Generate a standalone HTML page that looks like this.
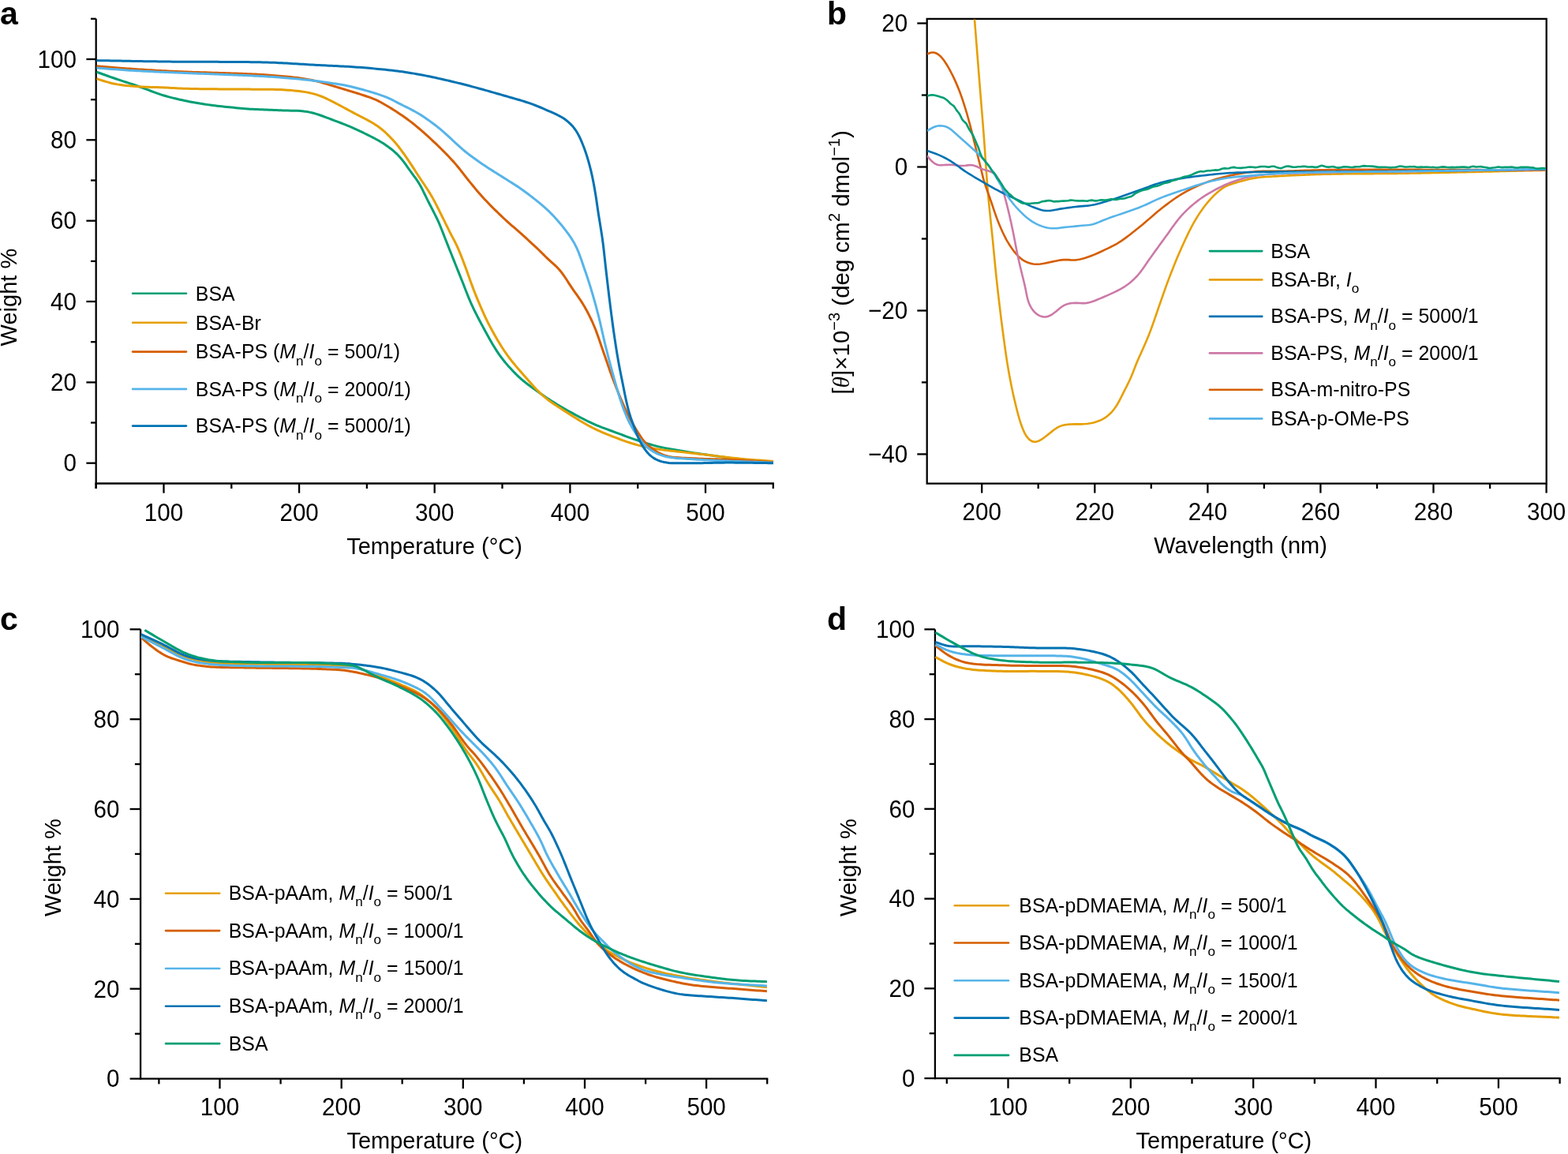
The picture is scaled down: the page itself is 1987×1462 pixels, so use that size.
<!DOCTYPE html>
<html><head><meta charset="utf-8"><style>html,body{margin:0;padding:0;background:#fff;}svg{display:block;}</style></head><body>
<svg xmlns="http://www.w3.org/2000/svg" width="1987" height="1462" viewBox="0 0 1987 1462">
<rect width="1987" height="1462" fill="#fff"/>
<g font-family="Liberation Sans, Arial, Helvetica, sans-serif" fill="#000">
<text x="0.0" y="31.0" font-size="41.0" text-anchor="start" font-weight="bold">a</text>
<text x="1048.0" y="31.0" font-size="41.0" text-anchor="start" font-weight="bold">b</text>
<text x="0.0" y="797.5" font-size="41.0" text-anchor="start" font-weight="bold">c</text>
<text x="1048.0" y="797.5" font-size="41.0" text-anchor="start" font-weight="bold">d</text>
<line x1="121.7" y1="23.8" x2="121.7" y2="619.0" stroke="#000" stroke-width="2.30" stroke-linecap="butt"/>
<line x1="120.6" y1="612.5" x2="980.9" y2="612.5" stroke="#000" stroke-width="2.30" stroke-linecap="butt"/>
<line x1="109.4" y1="586.7" x2="121.7" y2="586.7" stroke="#000" stroke-width="2.30" stroke-linecap="butt"/>
<text transform="translate(97.0,597.2) scale(1,1.060)" font-size="29.6" text-anchor="end">0</text>
<line x1="115.0" y1="535.5" x2="121.7" y2="535.5" stroke="#000" stroke-width="2.30" stroke-linecap="butt"/>
<line x1="109.4" y1="484.4" x2="121.7" y2="484.4" stroke="#000" stroke-width="2.30" stroke-linecap="butt"/>
<text transform="translate(97.0,494.9) scale(1,1.060)" font-size="29.6" text-anchor="end">20</text>
<line x1="115.0" y1="433.2" x2="121.7" y2="433.2" stroke="#000" stroke-width="2.30" stroke-linecap="butt"/>
<line x1="109.4" y1="382.0" x2="121.7" y2="382.0" stroke="#000" stroke-width="2.30" stroke-linecap="butt"/>
<text transform="translate(97.0,392.5) scale(1,1.060)" font-size="29.6" text-anchor="end">40</text>
<line x1="115.0" y1="330.9" x2="121.7" y2="330.9" stroke="#000" stroke-width="2.30" stroke-linecap="butt"/>
<line x1="109.4" y1="279.7" x2="121.7" y2="279.7" stroke="#000" stroke-width="2.30" stroke-linecap="butt"/>
<text transform="translate(97.0,290.2) scale(1,1.060)" font-size="29.6" text-anchor="end">60</text>
<line x1="115.0" y1="228.5" x2="121.7" y2="228.5" stroke="#000" stroke-width="2.30" stroke-linecap="butt"/>
<line x1="109.4" y1="177.3" x2="121.7" y2="177.3" stroke="#000" stroke-width="2.30" stroke-linecap="butt"/>
<text transform="translate(97.0,187.8) scale(1,1.060)" font-size="29.6" text-anchor="end">80</text>
<line x1="115.0" y1="126.2" x2="121.7" y2="126.2" stroke="#000" stroke-width="2.30" stroke-linecap="butt"/>
<line x1="109.4" y1="75.0" x2="121.7" y2="75.0" stroke="#000" stroke-width="2.30" stroke-linecap="butt"/>
<text transform="translate(97.0,85.5) scale(1,1.060)" font-size="29.6" text-anchor="end">100</text>
<line x1="115.0" y1="23.8" x2="121.7" y2="23.8" stroke="#000" stroke-width="2.30" stroke-linecap="butt"/>
<line x1="121.7" y1="612.5" x2="121.7" y2="619.0" stroke="#000" stroke-width="2.30" stroke-linecap="butt"/>
<line x1="207.5" y1="612.5" x2="207.5" y2="624.7" stroke="#000" stroke-width="2.30" stroke-linecap="butt"/>
<text transform="translate(207.5,659.8) scale(1,1.060)" font-size="29.6" text-anchor="middle">100</text>
<line x1="293.3" y1="612.5" x2="293.3" y2="619.0" stroke="#000" stroke-width="2.30" stroke-linecap="butt"/>
<line x1="379.1" y1="612.5" x2="379.1" y2="624.7" stroke="#000" stroke-width="2.30" stroke-linecap="butt"/>
<text transform="translate(379.1,659.8) scale(1,1.060)" font-size="29.6" text-anchor="middle">200</text>
<line x1="464.9" y1="612.5" x2="464.9" y2="619.0" stroke="#000" stroke-width="2.30" stroke-linecap="butt"/>
<line x1="550.7" y1="612.5" x2="550.7" y2="624.7" stroke="#000" stroke-width="2.30" stroke-linecap="butt"/>
<text transform="translate(550.7,659.8) scale(1,1.060)" font-size="29.6" text-anchor="middle">300</text>
<line x1="636.5" y1="612.5" x2="636.5" y2="619.0" stroke="#000" stroke-width="2.30" stroke-linecap="butt"/>
<line x1="722.4" y1="612.5" x2="722.4" y2="624.7" stroke="#000" stroke-width="2.30" stroke-linecap="butt"/>
<text transform="translate(722.4,659.8) scale(1,1.060)" font-size="29.6" text-anchor="middle">400</text>
<line x1="808.2" y1="612.5" x2="808.2" y2="619.0" stroke="#000" stroke-width="2.30" stroke-linecap="butt"/>
<line x1="894.0" y1="612.5" x2="894.0" y2="624.7" stroke="#000" stroke-width="2.30" stroke-linecap="butt"/>
<text transform="translate(894.0,659.8) scale(1,1.060)" font-size="29.6" text-anchor="middle">500</text>
<line x1="979.8" y1="612.5" x2="979.8" y2="619.0" stroke="#000" stroke-width="2.30" stroke-linecap="butt"/>
<text x="550.5" y="702.0" font-size="29.0" text-anchor="middle">Temperature (°C)</text>
<text transform="translate(21.2,376.6) rotate(-90)" font-size="29.0" text-anchor="middle">Weight %</text>
<line x1="168.1" y1="371.7" x2="236.0" y2="371.7" stroke="#009E73" stroke-width="2.60" stroke-linecap="round"/>
<text x="247.8" y="381.0" font-size="24.9" text-anchor="start">BSA</text>
<line x1="168.1" y1="408.8" x2="236.0" y2="408.8" stroke="#E69F00" stroke-width="2.60" stroke-linecap="round"/>
<text x="247.8" y="418.1" font-size="24.9" text-anchor="start">BSA-Br</text>
<line x1="168.1" y1="445.6" x2="236.0" y2="445.6" stroke="#D55E00" stroke-width="2.60" stroke-linecap="round"/>
<text x="247.8" y="454.3" font-size="24.9" text-anchor="start">BSA-PS (<tspan font-style="italic">M</tspan><tspan font-size="17.2" dy="8.2">n</tspan><tspan dy="-8.2">/</tspan><tspan font-style="italic">I</tspan><tspan font-size="17.2" dy="8.2">o</tspan><tspan dy="-8.2"> = 500/1)</tspan></text>
<line x1="168.1" y1="492.9" x2="236.0" y2="492.9" stroke="#56B4E9" stroke-width="2.60" stroke-linecap="round"/>
<text x="247.8" y="501.6" font-size="24.9" text-anchor="start">BSA-PS (<tspan font-style="italic">M</tspan><tspan font-size="17.2" dy="8.2">n</tspan><tspan dy="-8.2">/</tspan><tspan font-style="italic">I</tspan><tspan font-size="17.2" dy="8.2">o</tspan><tspan dy="-8.2"> = 2000/1)</tspan></text>
<line x1="168.1" y1="539.6" x2="236.0" y2="539.6" stroke="#0072B2" stroke-width="2.60" stroke-linecap="round"/>
<text x="247.8" y="548.3" font-size="24.9" text-anchor="start">BSA-PS (<tspan font-style="italic">M</tspan><tspan font-size="17.2" dy="8.2">n</tspan><tspan dy="-8.2">/</tspan><tspan font-style="italic">I</tspan><tspan font-size="17.2" dy="8.2">o</tspan><tspan dy="-8.2"> = 5000/1)</tspan></text>
<path d="M122.50,91.20L125.33,92.22L128.15,93.23L130.98,94.25L133.81,95.27L136.64,96.28L139.47,97.29L142.30,98.28L145.14,99.26L147.99,100.23L150.84,101.18L153.69,102.12L156.54,103.06L159.40,103.98L162.26,104.91L165.11,105.85L167.97,106.79L170.82,107.75L173.66,108.72L176.49,109.72L179.32,110.74L182.13,111.79L184.94,112.86L187.74,113.94L190.55,115.02L193.35,116.09L196.17,117.14L198.99,118.15L201.83,119.13L204.69,120.06L207.56,120.95L210.44,121.79L213.34,122.60L216.24,123.37L219.15,124.11L222.07,124.83L224.99,125.52L227.92,126.19L230.86,126.83L233.79,127.46L236.73,128.08L239.68,128.67L242.63,129.24L245.58,129.79L248.54,130.32L251.50,130.82L254.47,131.30L257.44,131.76L260.41,132.20L263.38,132.63L266.36,133.03L269.34,133.42L272.32,133.79L275.30,134.15L278.29,134.49L281.27,134.83L284.26,135.15L287.25,135.46L290.24,135.77L293.23,136.06L296.22,136.36L299.21,136.64L302.20,136.91L305.19,137.18L308.18,137.44L311.18,137.69L314.17,137.92L317.17,138.13L320.17,138.31L323.17,138.46L326.17,138.59L329.17,138.71L332.17,138.84L335.18,138.96L338.18,139.09L341.18,139.21L344.18,139.33L347.18,139.45L350.19,139.56L353.19,139.68L356.19,139.79L359.19,139.90L362.20,140.00L365.20,140.08L368.20,140.14L371.21,140.20L374.21,140.27L377.21,140.37L380.21,140.54L383.20,140.79L386.18,141.14L389.15,141.58L392.10,142.13L395.03,142.77L397.94,143.51L400.83,144.33L403.69,145.24L406.53,146.21L409.36,147.24L412.17,148.29L414.97,149.37L417.78,150.44L420.59,151.51L423.40,152.57L426.21,153.62L429.02,154.68L431.83,155.75L434.63,156.83L437.43,157.93L440.21,159.07L442.98,160.23L445.74,161.42L448.48,162.64L451.22,163.88L453.95,165.14L456.66,166.42L459.38,167.71L462.08,169.02L464.78,170.34L467.47,171.67L470.16,173.02L472.83,174.39L475.49,175.79L478.13,177.22L480.76,178.68L483.35,180.20L485.90,181.78L488.41,183.43L490.86,185.15L493.28,186.94L495.66,188.77L497.99,190.66L500.27,192.61L502.49,194.64L504.62,196.75L506.66,198.94L508.62,201.22L510.49,203.57L512.30,205.96L514.07,208.39L515.81,210.84L517.54,213.30L519.27,215.75L521.03,218.18L522.81,220.60L524.60,223.02L526.38,225.44L528.11,227.89L529.79,230.38L531.37,232.93L532.88,235.52L534.30,238.17L535.66,240.85L536.98,243.54L538.29,246.25L539.59,248.95L540.91,251.65L542.25,254.34L543.61,257.02L544.99,259.69L546.37,262.36L547.75,265.03L549.13,267.70L550.49,270.38L551.83,273.06L553.15,275.76L554.43,278.48L555.67,281.21L556.88,283.97L558.05,286.73L559.18,289.51L560.29,292.31L561.39,295.10L562.47,297.91L563.56,300.71L564.65,303.51L565.75,306.30L566.86,309.09L567.97,311.89L569.08,314.68L570.19,317.47L571.30,320.26L572.41,323.05L573.52,325.84L574.64,328.63L575.75,331.42L576.87,334.21L577.98,337.00L579.10,339.79L580.22,342.58L581.34,345.37L582.46,348.16L583.57,350.94L584.69,353.73L585.80,356.53L586.91,359.32L588.00,362.12L589.08,364.92L590.16,367.72L591.25,370.52L592.35,373.32L593.47,376.11L594.61,378.88L595.80,381.65L597.01,384.39L598.26,387.13L599.53,389.85L600.83,392.56L602.15,395.25L603.50,397.94L604.86,400.62L606.24,403.28L607.64,405.94L609.05,408.60L610.47,411.24L611.89,413.89L613.32,416.54L614.75,419.18L616.18,421.82L617.62,424.46L619.07,427.09L620.54,429.71L622.03,432.32L623.54,434.91L625.07,437.50L626.63,440.06L628.23,442.61L629.86,445.13L631.54,447.62L633.26,450.08L635.04,452.50L636.85,454.89L638.71,457.25L640.61,459.58L642.55,461.88L644.52,464.14L646.53,466.37L648.58,468.57L650.66,470.74L652.77,472.88L654.91,474.98L657.09,477.05L659.31,479.07L661.56,481.06L663.86,482.99L666.20,484.88L668.56,486.73L670.96,488.54L673.37,490.33L675.80,492.10L678.24,493.85L680.69,495.59L683.14,497.33L685.60,499.05L688.07,500.76L690.55,502.45L693.05,504.13L695.56,505.78L698.08,507.41L700.62,509.02L703.17,510.61L705.73,512.18L708.30,513.73L710.89,515.26L713.48,516.77L716.09,518.27L718.70,519.75L721.32,521.23L723.95,522.68L726.58,524.13L729.22,525.56L731.87,526.97L734.53,528.37L737.20,529.76L739.87,531.12L742.56,532.47L745.26,533.79L747.97,535.08L750.69,536.35L753.44,537.57L756.20,538.76L758.97,539.90L761.76,541.02L764.57,542.10L767.38,543.16L770.19,544.20L773.02,545.23L775.84,546.27L778.65,547.31L781.47,548.36L784.28,549.41L787.10,550.46L789.92,551.50L792.74,552.54L795.56,553.57L798.39,554.58L801.22,555.58L804.06,556.56L806.91,557.52L809.76,558.47L812.61,559.41L815.47,560.34L818.33,561.25L821.20,562.14L824.08,563.00L826.96,563.83L829.86,564.63L832.77,565.38L835.69,566.09L838.62,566.75L841.56,567.38L844.50,567.96L847.45,568.52L850.41,569.05L853.37,569.56L856.34,570.06L859.30,570.54L862.26,571.03L865.23,571.51L868.20,571.99L871.16,572.47L874.13,572.94L877.10,573.40L880.07,573.86L883.04,574.30L886.01,574.74L888.98,575.17L891.96,575.60L894.93,576.02L897.91,576.45L900.88,576.87L903.86,577.29L906.83,577.71L909.80,578.13L912.78,578.55L915.76,578.96L918.73,579.37L921.71,579.76L924.69,580.15L927.67,580.52L930.65,580.88L933.64,581.22L936.63,581.56L939.61,581.87L942.60,582.18L945.59,582.47L948.58,582.76L951.57,583.04L954.57,583.31L957.56,583.58L960.55,583.85L963.54,584.11L966.54,584.38L969.53,584.65L972.52,584.92L975.51,585.19L978.50,585.46L980.00,585.60" fill="none" stroke="#009E73" stroke-width="3.00" stroke-linejoin="round" stroke-linecap="butt"/>
<path d="M122.50,99.80L125.37,100.68L128.25,101.56L131.12,102.45L133.99,103.33L136.88,104.17L139.78,104.96L142.69,105.67L145.63,106.31L148.58,106.86L151.55,107.34L154.52,107.77L157.50,108.15L160.49,108.49L163.48,108.79L166.47,109.07L169.47,109.33L172.46,109.56L175.46,109.78L178.46,109.97L181.46,110.12L184.46,110.24L187.47,110.34L190.47,110.41L193.48,110.48L196.48,110.55L199.49,110.62L202.49,110.71L205.49,110.82L208.50,110.94L211.50,111.09L214.50,111.24L217.50,111.40L220.50,111.57L223.50,111.73L226.51,111.89L229.51,112.03L232.51,112.16L235.51,112.27L238.52,112.37L241.52,112.45L244.53,112.52L247.53,112.57L250.54,112.62L253.54,112.66L256.55,112.70L259.55,112.73L262.56,112.76L265.57,112.79L268.57,112.82L271.58,112.85L274.58,112.87L277.59,112.89L280.59,112.90L283.60,112.92L286.60,112.93L289.61,112.94L292.62,112.95L295.62,112.96L298.63,112.98L301.63,112.99L304.64,113.01L307.64,113.03L310.65,113.06L313.66,113.09L316.66,113.11L319.67,113.14L322.67,113.15L325.68,113.17L328.68,113.18L331.69,113.19L334.69,113.20L337.70,113.22L340.71,113.25L343.71,113.29L346.72,113.34L349.72,113.41L352.73,113.50L355.73,113.61L358.73,113.76L361.73,113.93L364.73,114.14L367.73,114.37L370.72,114.62L373.71,114.90L376.70,115.20L379.69,115.55L382.67,115.93L385.64,116.37L388.60,116.86L391.55,117.43L394.49,118.09L397.39,118.83L400.28,119.67L403.13,120.61L405.95,121.63L408.75,122.73L411.51,123.92L414.23,125.18L416.94,126.49L419.63,127.83L422.31,129.19L424.98,130.57L427.64,131.96L430.29,133.37L432.94,134.79L435.59,136.22L438.23,137.65L440.87,139.09L443.51,140.52L446.16,141.94L448.82,143.35L451.48,144.74L454.16,146.11L456.83,147.48L459.50,148.86L462.17,150.24L464.83,151.65L467.47,153.08L470.09,154.55L472.68,156.08L475.23,157.66L477.74,159.32L480.18,161.05L482.57,162.87L484.90,164.77L487.17,166.73L489.39,168.76L491.56,170.84L493.67,172.97L495.75,175.14L497.80,177.35L499.80,179.58L501.77,181.85L503.69,184.16L505.57,186.51L507.39,188.90L509.18,191.31L510.94,193.75L512.68,196.20L514.40,198.66L516.11,201.13L517.81,203.62L519.48,206.11L521.14,208.62L522.78,211.14L524.41,213.66L526.03,216.19L527.65,218.72L529.28,221.25L530.91,223.77L532.57,226.28L534.23,228.79L535.91,231.28L537.59,233.77L539.26,236.27L540.92,238.78L542.55,241.30L544.15,243.84L545.71,246.41L547.23,249.01L548.70,251.63L550.14,254.26L551.55,256.92L552.93,259.59L554.29,262.27L555.64,264.95L556.98,267.64L558.32,270.33L559.65,273.03L560.98,275.72L562.31,278.42L563.65,281.11L564.98,283.80L566.31,286.50L567.64,289.20L568.97,291.89L570.31,294.58L571.68,297.26L573.07,299.92L574.49,302.57L575.90,305.23L577.27,307.90L578.59,310.60L579.85,313.32L581.06,316.07L582.22,318.85L583.36,321.63L584.47,324.42L585.56,327.22L586.64,330.03L587.71,332.83L588.78,335.64L589.83,338.46L590.87,341.28L591.89,344.11L592.90,346.94L593.90,349.77L594.90,352.61L595.90,355.44L596.92,358.27L597.96,361.09L599.01,363.90L600.08,366.71L601.17,369.51L602.27,372.31L603.39,375.10L604.53,377.88L605.68,380.66L606.85,383.43L608.03,386.19L609.21,388.95L610.41,391.71L611.62,394.46L612.85,397.21L614.10,399.94L615.38,402.66L616.69,405.36L618.03,408.05L619.40,410.72L620.80,413.39L622.21,416.04L623.64,418.68L625.09,421.32L626.55,423.94L628.03,426.56L629.53,429.16L631.05,431.76L632.59,434.33L634.16,436.90L635.76,439.44L637.39,441.97L639.05,444.48L640.75,446.96L642.48,449.41L644.26,451.83L646.07,454.23L647.91,456.60L649.79,458.95L651.69,461.28L653.61,463.59L655.56,465.88L657.52,468.16L659.49,470.43L661.47,472.69L663.45,474.95L665.43,477.21L667.42,479.47L669.40,481.73L671.38,483.99L673.36,486.24L675.37,488.48L677.39,490.70L679.44,492.90L681.53,495.06L683.66,497.18L685.84,499.25L688.06,501.27L690.34,503.22L692.67,505.12L695.05,506.95L697.47,508.73L699.93,510.47L702.41,512.17L704.91,513.83L707.42,515.48L709.94,517.11L712.47,518.74L715.00,520.37L717.52,521.99L720.05,523.62L722.58,525.25L725.11,526.87L727.65,528.47L730.20,530.07L732.76,531.65L735.32,533.21L737.90,534.76L740.49,536.27L743.10,537.77L745.73,539.22L748.38,540.65L751.05,542.03L753.74,543.37L756.45,544.66L759.18,545.92L761.93,547.13L764.69,548.32L767.47,549.47L770.25,550.60L773.05,551.70L775.85,552.80L778.65,553.88L781.46,554.95L784.27,556.01L787.09,557.05L789.91,558.08L792.75,559.08L795.59,560.05L798.45,560.99L801.31,561.90L804.19,562.75L807.09,563.57L809.99,564.33L812.91,565.04L815.84,565.71L818.78,566.34L821.73,566.93L824.68,567.49L827.64,568.02L830.60,568.52L833.57,569.00L836.54,569.45L839.51,569.87L842.49,570.26L845.48,570.62L848.46,570.96L851.45,571.29L854.44,571.60L857.43,571.91L860.42,572.23L863.41,572.54L866.40,572.87L869.38,573.21L872.37,573.55L875.36,573.90L878.34,574.24L881.33,574.59L884.31,574.93L887.30,575.28L890.28,575.62L893.27,575.97L896.26,576.32L899.24,576.67L902.23,577.02L905.21,577.38L908.19,577.75L911.18,578.12L914.16,578.49L917.14,578.86L920.12,579.22L923.11,579.58L926.10,579.92L929.08,580.25L932.07,580.56L935.06,580.86L938.06,581.14L941.05,581.42L944.04,581.68L947.04,581.93L950.03,582.17L953.03,582.41L956.03,582.65L959.02,582.88L962.02,583.11L965.02,583.33L968.01,583.56L971.01,583.79L974.01,584.03L977.00,584.26L980.00,584.50" fill="none" stroke="#E69F00" stroke-width="3.00" stroke-linejoin="round" stroke-linecap="butt"/>
<path d="M122.50,83.70L125.49,83.97L128.49,84.25L131.48,84.52L134.47,84.80L137.47,85.06L140.46,85.31L143.46,85.56L146.45,85.79L149.45,86.02L152.45,86.24L155.45,86.46L158.44,86.67L161.44,86.88L164.44,87.09L167.44,87.30L170.44,87.50L173.44,87.71L176.43,87.90L179.43,88.10L182.43,88.29L185.43,88.48L188.43,88.67L191.43,88.85L194.43,89.03L197.43,89.21L200.43,89.38L203.43,89.55L206.44,89.71L209.44,89.87L212.44,90.03L215.44,90.18L218.44,90.33L221.45,90.46L224.45,90.59L227.45,90.72L230.45,90.84L233.46,90.96L236.46,91.07L239.46,91.18L242.47,91.28L245.47,91.38L248.48,91.48L251.48,91.58L254.48,91.68L257.49,91.77L260.49,91.86L263.50,91.96L266.50,92.05L269.51,92.14L272.51,92.23L275.51,92.32L278.52,92.41L281.52,92.50L284.53,92.59L287.53,92.69L290.53,92.78L293.54,92.88L296.54,92.98L299.55,93.09L302.55,93.19L305.55,93.31L308.56,93.42L311.56,93.55L314.56,93.68L317.56,93.82L320.57,93.97L323.57,94.11L326.57,94.26L329.57,94.42L332.57,94.59L335.57,94.78L338.57,94.98L341.57,95.21L344.56,95.45L347.56,95.69L350.55,95.95L353.55,96.21L356.54,96.46L359.54,96.73L362.53,97.00L365.52,97.29L368.51,97.59L371.50,97.90L374.49,98.24L377.47,98.61L380.45,99.00L383.43,99.42L386.39,99.89L389.36,100.39L392.31,100.95L395.25,101.55L398.19,102.20L401.11,102.89L404.02,103.63L406.93,104.40L409.83,105.21L412.71,106.03L415.60,106.88L418.48,107.75L421.35,108.62L424.23,109.49L427.11,110.36L429.98,111.23L432.86,112.10L435.74,112.96L438.62,113.83L441.49,114.70L444.37,115.58L447.24,116.46L450.11,117.35L452.98,118.24L455.85,119.15L458.71,120.07L461.56,121.01L464.41,121.96L467.25,122.94L470.08,123.96L472.89,125.03L475.66,126.19L478.39,127.44L481.07,128.79L483.70,130.23L486.32,131.71L488.92,133.21L491.51,134.74L494.08,136.29L496.64,137.87L499.18,139.48L501.70,141.11L504.22,142.76L506.72,144.43L509.20,146.11L511.67,147.82L514.13,149.56L516.56,151.32L518.98,153.11L521.37,154.93L523.73,156.79L526.07,158.67L528.39,160.59L530.69,162.52L532.97,164.48L535.23,166.45L537.49,168.44L539.73,170.44L541.97,172.45L544.19,174.47L546.41,176.50L548.61,178.55L550.80,180.61L552.98,182.68L555.14,184.76L557.30,186.86L559.44,188.97L561.57,191.09L563.69,193.22L565.79,195.37L567.88,197.52L569.95,199.70L572.00,201.90L574.03,204.12L576.02,206.37L577.98,208.64L579.91,210.95L581.80,213.29L583.66,215.64L585.51,218.02L587.35,220.39L589.19,222.77L591.04,225.13L592.91,227.49L594.80,229.83L596.69,232.16L598.59,234.49L600.50,236.81L602.43,239.12L604.36,241.42L606.32,243.70L608.30,245.96L610.30,248.21L612.32,250.43L614.35,252.64L616.41,254.84L618.48,257.02L620.56,259.18L622.66,261.33L624.78,263.46L626.91,265.58L629.06,267.68L631.22,269.77L633.39,271.85L635.57,273.92L637.76,275.98L639.97,278.02L642.19,280.05L644.42,282.05L646.67,284.04L648.94,286.02L651.21,287.98L653.49,289.95L655.75,291.93L658.00,293.92L660.24,295.92L662.48,297.93L664.70,299.95L666.93,301.97L669.15,303.99L671.37,306.02L673.58,308.06L675.79,310.09L677.99,312.14L680.19,314.19L682.37,316.26L684.53,318.35L686.67,320.46L688.80,322.58L690.92,324.71L693.07,326.81L695.25,328.87L697.47,330.90L699.72,332.90L701.95,334.90L704.16,336.94L706.30,339.05L708.35,341.23L710.31,343.51L712.16,345.87L713.93,348.29L715.64,350.77L717.30,353.27L718.93,355.80L720.55,358.32L722.19,360.85L723.84,363.36L725.52,365.85L727.23,368.32L728.96,370.78L730.69,373.23L732.42,375.69L734.13,378.16L735.81,380.65L737.45,383.17L739.04,385.72L740.59,388.30L742.08,390.91L743.53,393.54L744.94,396.19L746.31,398.86L747.65,401.56L748.95,404.27L750.21,406.99L751.43,409.74L752.62,412.50L753.77,415.28L754.88,418.07L755.94,420.88L756.98,423.70L757.99,426.53L758.98,429.37L759.96,432.21L760.93,435.05L761.90,437.90L762.88,440.74L763.86,443.58L764.85,446.42L765.84,449.26L766.82,452.10L767.81,454.94L768.78,457.78L769.76,460.62L770.74,463.46L771.72,466.30L772.72,469.14L773.73,471.97L774.75,474.80L775.79,477.62L776.84,480.43L777.91,483.24L778.99,486.05L780.08,488.85L781.19,491.64L782.31,494.43L783.44,497.22L784.58,500.00L785.73,502.77L786.90,505.54L788.07,508.31L789.25,511.07L790.44,513.83L791.65,516.58L792.89,519.32L794.15,522.05L795.44,524.76L796.77,527.46L798.14,530.13L799.55,532.79L801.00,535.42L802.48,538.03L804.00,540.63L805.55,543.20L807.13,545.76L808.71,548.31L810.31,550.86L811.96,553.37L813.68,555.83L815.52,558.19L817.50,560.44L819.60,562.57L821.81,564.60L824.11,566.53L826.47,568.38L828.91,570.13L831.42,571.77L834.01,573.29L836.67,574.66L839.41,575.88L842.22,576.91L845.09,577.76L848.01,578.43L850.96,578.95L853.94,579.33L856.93,579.62L859.92,579.84L862.93,580.00L865.93,580.13L868.93,580.25L871.93,580.38L874.94,580.52L877.94,580.68L880.94,580.85L883.94,581.01L886.94,581.16L889.94,581.28L892.95,581.39L895.95,581.48L898.96,581.57L901.96,581.65L904.96,581.73L907.97,581.81L910.97,581.89L913.98,581.99L916.98,582.09L919.98,582.21L922.99,582.34L925.99,582.48L928.99,582.64L931.99,582.79L934.99,582.95L937.99,583.12L941.00,583.29L944.00,583.46L947.00,583.64L950.00,583.81L953.00,583.99L956.00,584.17L959.00,584.35L962.00,584.53L965.00,584.71L968.00,584.89L971.00,585.07L974.00,585.25L977.00,585.43L980.00,585.60" fill="none" stroke="#D55E00" stroke-width="3.00" stroke-linejoin="round" stroke-linecap="butt"/>
<path d="M122.50,86.00L125.50,86.23L128.49,86.46L131.49,86.69L134.49,86.93L137.48,87.17L140.48,87.40L143.47,87.64L146.47,87.87L149.47,88.09L152.47,88.32L155.46,88.53L158.46,88.74L161.46,88.95L164.46,89.14L167.46,89.33L170.46,89.50L173.46,89.68L176.46,89.84L179.46,90.00L182.46,90.16L185.46,90.31L188.47,90.46L191.47,90.60L194.47,90.74L197.47,90.88L200.48,91.02L203.48,91.15L206.48,91.29L209.48,91.42L212.49,91.56L215.49,91.69L218.49,91.82L221.49,91.95L224.50,92.08L227.50,92.20L230.50,92.32L233.50,92.44L236.51,92.56L239.51,92.68L242.51,92.79L245.52,92.91L248.52,93.02L251.52,93.14L254.53,93.25L257.53,93.37L260.53,93.48L263.54,93.60L266.54,93.72L269.54,93.84L272.55,93.96L275.55,94.08L278.55,94.19L281.56,94.31L284.56,94.42L287.56,94.54L290.57,94.66L293.57,94.78L296.57,94.90L299.58,95.02L302.58,95.14L305.58,95.27L308.58,95.40L311.59,95.54L314.59,95.68L317.59,95.83L320.59,95.98L323.59,96.13L326.59,96.28L329.60,96.44L332.60,96.61L335.60,96.78L338.60,96.97L341.60,97.17L344.59,97.37L347.59,97.59L350.59,97.81L353.59,98.04L356.58,98.27L359.58,98.51L362.57,98.75L365.57,99.00L368.56,99.26L371.56,99.52L374.55,99.79L377.54,100.07L380.54,100.35L383.53,100.64L386.52,100.95L389.51,101.26L392.49,101.59L395.48,101.93L398.46,102.29L401.45,102.66L404.43,103.05L407.40,103.45L410.38,103.87L413.36,104.30L416.33,104.74L419.30,105.19L422.27,105.65L425.24,106.10L428.21,106.57L431.18,107.04L434.14,107.55L437.10,108.09L440.04,108.68L442.98,109.31L445.91,109.98L448.83,110.69L451.74,111.43L454.65,112.19L457.55,112.98L460.45,113.78L463.34,114.59L466.23,115.42L469.11,116.27L471.99,117.14L474.86,118.02L477.73,118.93L480.58,119.86L483.43,120.82L486.26,121.82L489.07,122.89L491.85,124.04L494.58,125.28L497.27,126.62L499.93,128.01L502.58,129.42L505.25,130.80L507.93,132.15L510.63,133.49L513.32,134.82L516.01,136.16L518.69,137.51L521.36,138.89L524.02,140.30L526.65,141.75L529.26,143.24L531.83,144.79L534.38,146.39L536.90,148.02L539.39,149.70L541.86,151.41L544.31,153.15L546.74,154.92L549.15,156.71L551.54,158.54L553.91,160.38L556.26,162.26L558.59,164.16L560.88,166.10L563.14,168.08L565.38,170.08L567.60,172.11L569.80,174.15L572.00,176.20L574.20,178.25L576.41,180.29L578.62,182.33L580.83,184.36L583.05,186.39L585.30,188.38L587.59,190.33L589.91,192.23L592.26,194.10L594.64,195.94L597.04,197.75L599.45,199.54L601.88,201.32L604.32,203.07L606.77,204.80L609.24,206.52L611.73,208.20L614.23,209.87L616.75,211.51L619.28,213.14L621.81,214.75L624.35,216.36L626.89,217.96L629.43,219.57L631.97,221.17L634.51,222.78L637.05,224.39L639.60,225.99L642.15,227.58L644.70,229.17L647.24,230.76L649.79,232.37L652.32,233.99L654.84,235.63L657.34,237.29L659.82,238.99L662.28,240.72L664.72,242.47L667.14,244.25L669.54,246.05L671.93,247.87L674.31,249.71L676.68,251.57L679.03,253.44L681.38,255.31L683.72,257.20L686.04,259.10L688.34,261.03L690.61,263.01L692.83,265.03L695.01,267.10L697.15,269.21L699.24,271.36L701.31,273.55L703.34,275.76L705.35,277.99L707.34,280.25L709.29,282.53L711.22,284.83L713.12,287.16L714.99,289.51L716.83,291.89L718.64,294.29L720.41,296.71L722.15,299.17L723.83,301.66L725.45,304.19L726.99,306.77L728.45,309.39L729.82,312.06L731.11,314.77L732.31,317.53L733.44,320.31L734.51,323.12L735.54,325.94L736.54,328.77L737.52,331.61L738.49,334.46L739.47,337.30L740.45,340.14L741.44,342.98L742.42,345.82L743.39,348.66L744.35,351.51L745.29,354.37L746.21,357.23L747.12,360.09L748.01,362.96L748.89,365.84L749.75,368.72L750.60,371.60L751.45,374.48L752.28,377.37L753.10,380.26L753.91,383.16L754.71,386.05L755.50,388.95L756.28,391.86L757.04,394.76L757.80,397.67L758.54,400.58L759.26,403.50L759.96,406.42L760.65,409.35L761.33,412.28L761.99,415.21L762.66,418.14L763.32,421.07L763.98,424.00L764.65,426.93L765.33,429.86L766.01,432.79L766.71,435.71L767.42,438.63L768.15,441.55L768.88,444.46L769.62,447.37L770.37,450.28L771.13,453.19L771.89,456.10L772.66,459.01L773.43,461.91L774.20,464.82L774.99,467.72L775.77,470.62L776.57,473.52L777.37,476.41L778.17,479.31L778.98,482.20L779.78,485.10L780.59,487.99L781.41,490.89L782.23,493.78L783.08,496.66L783.94,499.54L784.83,502.41L785.75,505.27L786.70,508.12L787.67,510.97L788.67,513.80L789.69,516.63L790.73,519.45L791.81,522.25L792.93,525.04L794.10,527.81L795.32,530.55L796.60,533.27L797.94,535.96L799.34,538.62L800.79,541.25L802.31,543.84L803.89,546.39L805.54,548.91L807.23,551.39L808.98,553.83L810.76,556.25L812.60,558.62L814.51,560.94L816.52,563.17L818.63,565.29L820.87,567.28L823.23,569.12L825.70,570.81L828.27,572.36L830.91,573.77L833.63,575.03L836.41,576.15L839.25,577.14L842.12,577.98L845.04,578.69L847.98,579.27L850.95,579.72L853.93,580.09L856.92,580.39L859.91,580.63L862.91,580.84L865.91,581.03L868.91,581.20L871.91,581.38L874.91,581.57L877.91,581.77L880.91,581.97L883.91,582.17L886.91,582.37L889.91,582.54L892.91,582.71L895.91,582.86L898.91,583.01L901.91,583.14L904.92,583.27L907.92,583.40L910.92,583.53L913.93,583.65L916.93,583.77L919.93,583.90L922.93,584.03L925.94,584.15L928.94,584.27L931.94,584.39L934.95,584.51L937.95,584.62L940.95,584.73L943.96,584.84L946.96,584.95L949.96,585.05L952.97,585.16L955.97,585.26L958.97,585.37L961.98,585.47L964.98,585.57L967.99,585.68L970.99,585.78L973.99,585.89L977.00,585.99L980.00,586.10" fill="none" stroke="#56B4E9" stroke-width="3.00" stroke-linejoin="round" stroke-linecap="butt"/>
<path d="M122.50,76.60L125.51,76.65L128.51,76.70L131.52,76.75L134.52,76.80L137.53,76.85L140.53,76.91L143.54,76.96L146.54,77.01L149.54,77.07L152.55,77.12L155.55,77.17L158.56,77.23L161.56,77.28L164.57,77.34L167.57,77.39L170.58,77.44L173.58,77.49L176.59,77.54L179.59,77.59L182.60,77.64L185.60,77.69L188.61,77.74L191.61,77.79L194.62,77.83L197.63,77.87L200.63,77.92L203.64,77.96L206.64,77.99L209.65,78.03L212.65,78.06L215.66,78.10L218.66,78.13L221.67,78.15L224.67,78.18L227.68,78.20L230.68,78.22L233.69,78.24L236.69,78.25L239.70,78.27L242.70,78.28L245.71,78.29L248.72,78.30L251.72,78.31L254.73,78.32L257.73,78.33L260.74,78.34L263.74,78.35L266.75,78.35L269.75,78.36L272.76,78.37L275.76,78.37L278.77,78.38L281.78,78.39L284.78,78.40L287.79,78.41L290.79,78.42L293.80,78.43L296.80,78.45L299.81,78.47L302.81,78.48L305.82,78.51L308.82,78.53L311.83,78.57L314.83,78.60L317.84,78.64L320.84,78.68L323.85,78.72L326.85,78.77L329.86,78.82L332.86,78.89L335.87,78.96L338.87,79.04L341.88,79.14L344.88,79.25L347.88,79.37L350.89,79.50L353.89,79.64L356.89,79.79L359.89,79.94L362.89,80.11L365.89,80.28L368.89,80.45L371.89,80.63L374.89,80.81L377.89,80.99L380.89,81.17L383.89,81.35L386.89,81.53L389.89,81.71L392.89,81.89L395.89,82.06L398.89,82.23L401.90,82.40L404.90,82.56L407.90,82.71L410.90,82.86L413.90,83.01L416.90,83.15L419.91,83.29L422.91,83.44L425.91,83.58L428.91,83.73L431.91,83.88L434.92,84.03L437.92,84.19L440.92,84.36L443.92,84.54L446.92,84.72L449.92,84.92L452.91,85.13L455.91,85.35L458.91,85.59L461.90,85.83L464.90,86.09L467.89,86.35L470.89,86.61L473.88,86.88L476.87,87.15L479.86,87.44L482.85,87.73L485.84,88.03L488.83,88.34L491.82,88.66L494.81,88.99L497.80,89.34L500.78,89.69L503.76,90.07L506.74,90.45L509.72,90.86L512.70,91.28L515.67,91.72L518.64,92.17L521.61,92.65L524.57,93.14L527.53,93.66L530.49,94.19L533.45,94.73L536.40,95.30L539.35,95.87L542.29,96.47L545.24,97.07L548.18,97.69L551.12,98.32L554.05,98.96L556.99,99.61L559.92,100.28L562.85,100.95L565.78,101.62L568.70,102.31L571.63,103.00L574.55,103.70L577.47,104.40L580.39,105.11L583.31,105.83L586.23,106.56L589.14,107.30L592.05,108.05L594.96,108.81L597.86,109.58L600.77,110.36L603.67,111.14L606.57,111.94L609.46,112.74L612.36,113.54L615.25,114.36L618.14,115.17L621.04,115.99L623.93,116.82L626.81,117.64L629.70,118.47L632.59,119.30L635.48,120.13L638.37,120.97L641.26,121.80L644.14,122.63L647.03,123.45L649.92,124.28L652.81,125.11L655.70,125.94L658.58,126.79L661.46,127.66L664.33,128.55L667.19,129.47L670.04,130.43L672.88,131.42L675.70,132.45L678.51,133.52L681.30,134.62L684.08,135.76L686.86,136.92L689.61,138.11L692.37,139.32L695.12,140.53L697.87,141.74L700.62,142.96L703.36,144.19L706.07,145.47L708.76,146.82L711.39,148.26L713.94,149.83L716.41,151.53L718.78,153.36L721.05,155.32L723.22,157.39L725.27,159.58L727.19,161.88L728.99,164.27L730.65,166.77L732.19,169.34L733.60,171.99L734.92,174.69L736.15,177.43L737.33,180.19L738.46,182.97L739.56,185.77L740.62,188.58L741.64,191.41L742.62,194.25L743.55,197.11L744.44,199.98L745.29,202.86L746.10,205.75L746.89,208.65L747.65,211.56L748.39,214.47L749.10,217.39L749.78,220.32L750.43,223.25L751.04,226.20L751.63,229.14L752.20,232.09L752.75,235.05L753.28,238.01L753.80,240.97L754.31,243.93L754.80,246.89L755.26,249.86L755.71,252.83L756.14,255.81L756.57,258.78L757.00,261.76L757.43,264.73L757.87,267.71L758.32,270.68L758.78,273.65L759.26,276.61L759.74,279.58L760.23,282.55L760.72,285.51L761.20,288.48L761.68,291.45L762.14,294.41L762.60,297.38L763.04,300.36L763.46,303.33L763.86,306.31L764.25,309.29L764.61,312.28L764.96,315.26L765.30,318.25L765.64,321.23L765.96,324.22L766.28,327.21L766.61,330.20L766.94,333.18L767.27,336.17L767.61,339.16L767.95,342.14L768.30,345.13L768.64,348.11L768.99,351.10L769.33,354.09L769.68,357.07L770.03,360.06L770.38,363.04L770.73,366.03L771.09,369.01L771.44,371.99L771.80,374.98L772.17,377.96L772.53,380.94L772.91,383.93L773.28,386.91L773.66,389.89L774.04,392.87L774.42,395.85L774.81,398.83L775.20,401.81L775.59,404.79L775.98,407.77L776.39,410.75L776.79,413.73L777.20,416.71L777.62,419.68L778.05,422.66L778.48,425.63L778.92,428.60L779.37,431.58L779.82,434.55L780.28,437.52L780.74,440.49L781.21,443.46L781.69,446.42L782.18,449.39L782.68,452.35L783.19,455.31L783.71,458.27L784.24,461.23L784.79,464.19L785.35,467.14L785.92,470.09L786.51,473.04L787.10,475.98L787.70,478.93L788.30,481.87L788.89,484.82L789.48,487.77L790.07,490.71L790.65,493.66L791.23,496.61L791.82,499.56L792.43,502.50L793.06,505.44L793.71,508.37L794.38,511.30L795.07,514.23L795.79,517.15L796.55,520.05L797.36,522.95L798.22,525.82L799.15,528.68L800.14,531.52L801.17,534.34L802.21,537.16L803.25,539.98L804.29,542.80L805.34,545.62L806.40,548.43L807.51,551.22L808.66,553.99L809.89,556.73L811.21,559.43L812.63,562.07L814.15,564.66L815.78,567.19L817.49,569.65L819.32,572.03L821.27,574.30L823.36,576.43L825.62,578.39L828.03,580.14L830.60,581.66L833.29,582.95L836.08,584.01L838.95,584.87L841.86,585.55L844.82,586.06L847.79,586.42L850.78,586.65L853.78,586.79L856.79,586.86L859.79,586.87L862.80,586.86L865.80,586.82L868.81,586.78L871.81,586.74L874.82,586.72L877.82,586.71L880.83,586.70L883.83,586.69L886.84,586.67L889.85,586.63L892.85,586.59L895.86,586.53L898.86,586.47L901.86,586.41L904.87,586.34L907.87,586.28L910.88,586.23L913.88,586.18L916.89,586.15L919.89,586.12L922.90,586.11L925.91,586.11L928.91,586.11L931.92,586.13L934.92,586.15L937.93,586.17L940.93,586.20L943.94,586.23L946.94,586.27L949.95,586.31L952.95,586.35L955.96,586.39L958.96,586.43L961.97,586.47L964.97,586.51L967.98,586.55L970.98,586.59L973.99,586.63L976.99,586.67L980.00,586.70" fill="none" stroke="#0072B2" stroke-width="3.00" stroke-linejoin="round" stroke-linecap="butt"/>
<rect x="1174.7" y="23.9" width="785.0" height="588.7" fill="none" stroke="#000" stroke-width="2.30"/>
<line x1="1162.3" y1="29.5" x2="1174.7" y2="29.5" stroke="#000" stroke-width="2.30" stroke-linecap="butt"/>
<text transform="translate(1150.2,39.8) scale(1,1.060)" font-size="29.6" text-anchor="end">20</text>
<line x1="1167.9" y1="120.5" x2="1174.7" y2="120.5" stroke="#000" stroke-width="2.30" stroke-linecap="butt"/>
<line x1="1162.3" y1="211.5" x2="1174.7" y2="211.5" stroke="#000" stroke-width="2.30" stroke-linecap="butt"/>
<text transform="translate(1150.2,221.8) scale(1,1.060)" font-size="29.6" text-anchor="end">0</text>
<line x1="1167.9" y1="302.5" x2="1174.7" y2="302.5" stroke="#000" stroke-width="2.30" stroke-linecap="butt"/>
<line x1="1162.3" y1="393.5" x2="1174.7" y2="393.5" stroke="#000" stroke-width="2.30" stroke-linecap="butt"/>
<text transform="translate(1150.2,403.8) scale(1,1.060)" font-size="29.6" text-anchor="end">−20</text>
<line x1="1167.9" y1="484.4" x2="1174.7" y2="484.4" stroke="#000" stroke-width="2.30" stroke-linecap="butt"/>
<line x1="1162.3" y1="575.4" x2="1174.7" y2="575.4" stroke="#000" stroke-width="2.30" stroke-linecap="butt"/>
<text transform="translate(1150.2,585.7) scale(1,1.060)" font-size="29.6" text-anchor="end">−40</text>
<line x1="1244.2" y1="612.6" x2="1244.2" y2="624.6" stroke="#000" stroke-width="2.30" stroke-linecap="butt"/>
<text transform="translate(1244.2,658.9) scale(1,1.060)" font-size="29.6" text-anchor="middle">200</text>
<line x1="1315.7" y1="612.6" x2="1315.7" y2="619.1" stroke="#000" stroke-width="2.30" stroke-linecap="butt"/>
<line x1="1387.3" y1="612.6" x2="1387.3" y2="624.6" stroke="#000" stroke-width="2.30" stroke-linecap="butt"/>
<text transform="translate(1387.3,658.9) scale(1,1.060)" font-size="29.6" text-anchor="middle">220</text>
<line x1="1458.8" y1="612.6" x2="1458.8" y2="619.1" stroke="#000" stroke-width="2.30" stroke-linecap="butt"/>
<line x1="1530.4" y1="612.6" x2="1530.4" y2="624.6" stroke="#000" stroke-width="2.30" stroke-linecap="butt"/>
<text transform="translate(1530.4,658.9) scale(1,1.060)" font-size="29.6" text-anchor="middle">240</text>
<line x1="1601.9" y1="612.6" x2="1601.9" y2="619.1" stroke="#000" stroke-width="2.30" stroke-linecap="butt"/>
<line x1="1673.4" y1="612.6" x2="1673.4" y2="624.6" stroke="#000" stroke-width="2.30" stroke-linecap="butt"/>
<text transform="translate(1673.4,658.9) scale(1,1.060)" font-size="29.6" text-anchor="middle">260</text>
<line x1="1745.0" y1="612.6" x2="1745.0" y2="619.1" stroke="#000" stroke-width="2.30" stroke-linecap="butt"/>
<line x1="1816.5" y1="612.6" x2="1816.5" y2="624.6" stroke="#000" stroke-width="2.30" stroke-linecap="butt"/>
<text transform="translate(1816.5,658.9) scale(1,1.060)" font-size="29.6" text-anchor="middle">280</text>
<line x1="1888.1" y1="612.6" x2="1888.1" y2="619.1" stroke="#000" stroke-width="2.30" stroke-linecap="butt"/>
<line x1="1959.6" y1="612.6" x2="1959.6" y2="624.6" stroke="#000" stroke-width="2.30" stroke-linecap="butt"/>
<text transform="translate(1959.6,658.9) scale(1,1.060)" font-size="29.6" text-anchor="middle">300</text>
<text x="1572.0" y="700.8" font-size="29.0" text-anchor="middle">Wavelength (nm)</text>
<text transform="translate(1076.3,332.4) rotate(-90)" font-size="29.5" text-anchor="middle">[<tspan font-family="Liberation Serif, serif" font-style="italic">θ</tspan>]×10<tspan font-size="20" dy="-12.5">−3</tspan><tspan dy="12.5"> (deg cm</tspan><tspan font-size="20" dy="-12.5">2</tspan><tspan dy="12.5"> dmol</tspan><tspan font-size="20" dy="-12.5">−1</tspan><tspan dy="12.5">)</tspan></text>
<line x1="1532.9" y1="318.1" x2="1599.3" y2="318.1" stroke="#009E73" stroke-width="2.60" stroke-linecap="round"/>
<text x="1610.3" y="326.6" font-size="24.9" text-anchor="start">BSA</text>
<line x1="1532.9" y1="354.4" x2="1599.3" y2="354.4" stroke="#E69F00" stroke-width="2.60" stroke-linecap="round"/>
<text x="1610.3" y="362.9" font-size="24.9" text-anchor="start">BSA-Br, <tspan font-style="italic">I</tspan><tspan font-size="17.2" dy="8.2">o</tspan></text>
<line x1="1532.9" y1="400.9" x2="1599.3" y2="400.9" stroke="#0072B2" stroke-width="2.60" stroke-linecap="round"/>
<text x="1610.3" y="409.4" font-size="24.9" text-anchor="start">BSA-PS, <tspan font-style="italic">M</tspan><tspan font-size="17.2" dy="8.2">n</tspan><tspan dy="-8.2">/</tspan><tspan font-style="italic">I</tspan><tspan font-size="17.2" dy="8.2">o</tspan><tspan dy="-8.2"> = 5000/1</tspan></text>
<line x1="1532.9" y1="447.4" x2="1599.3" y2="447.4" stroke="#CC79A7" stroke-width="2.60" stroke-linecap="round"/>
<text x="1610.3" y="455.9" font-size="24.9" text-anchor="start">BSA-PS, <tspan font-style="italic">M</tspan><tspan font-size="17.2" dy="8.2">n</tspan><tspan dy="-8.2">/</tspan><tspan font-style="italic">I</tspan><tspan font-size="17.2" dy="8.2">o</tspan><tspan dy="-8.2"> = 2000/1</tspan></text>
<line x1="1532.9" y1="493.7" x2="1599.3" y2="493.7" stroke="#D55E00" stroke-width="2.60" stroke-linecap="round"/>
<text x="1610.3" y="502.2" font-size="24.9" text-anchor="start">BSA-m-nitro-PS</text>
<line x1="1532.9" y1="530.4" x2="1599.3" y2="530.4" stroke="#56B4E9" stroke-width="2.60" stroke-linecap="round"/>
<text x="1610.3" y="538.9" font-size="24.9" text-anchor="start">BSA-p-OMe-PS</text>
<clipPath id="cb"><rect x="1174.7" y="23.9" width="785.0" height="588.7"/></clipPath>
<g clip-path="url(#cb)">
<path d="M1235.00,24.50L1235.24,27.50L1235.47,30.49L1235.71,33.49L1235.94,36.48L1236.18,39.48L1236.41,42.47L1236.64,45.47L1236.88,48.46L1237.11,51.46L1237.35,54.45L1237.58,57.45L1237.82,60.45L1238.05,63.44L1238.29,66.44L1238.52,69.43L1238.76,72.43L1238.99,75.42L1239.23,78.42L1239.46,81.41L1239.70,84.41L1239.94,87.40L1240.17,90.40L1240.41,93.40L1240.65,96.39L1240.88,99.39L1241.12,102.38L1241.36,105.38L1241.60,108.37L1241.84,111.37L1242.09,114.36L1242.33,117.36L1242.57,120.35L1242.82,123.35L1243.06,126.34L1243.31,129.34L1243.55,132.33L1243.80,135.32L1244.04,138.32L1244.28,141.31L1244.53,144.31L1244.77,147.30L1245.01,150.30L1245.25,153.29L1245.49,156.29L1245.73,159.28L1245.96,162.28L1246.19,165.28L1246.43,168.27L1246.66,171.27L1246.88,174.26L1247.10,177.26L1247.32,180.26L1247.53,183.25L1247.75,186.25L1247.96,189.25L1248.16,192.25L1248.37,195.24L1248.58,198.24L1248.78,201.24L1248.99,204.24L1249.19,207.23L1249.40,210.23L1249.61,213.23L1249.82,216.23L1250.03,219.22L1250.25,222.22L1250.46,225.22L1250.69,228.21L1250.91,231.21L1251.14,234.21L1251.38,237.20L1251.63,240.20L1251.88,243.19L1252.14,246.18L1252.40,249.18L1252.68,252.17L1252.96,255.16L1253.25,258.15L1253.54,261.14L1253.84,264.13L1254.15,267.12L1254.45,270.11L1254.76,273.10L1255.08,276.08L1255.39,279.07L1255.71,282.06L1256.02,285.05L1256.33,288.04L1256.64,291.03L1256.95,294.02L1257.26,297.00L1257.56,299.99L1257.85,302.98L1258.15,305.97L1258.44,308.96L1258.73,311.96L1259.02,314.95L1259.31,317.94L1259.59,320.93L1259.88,323.92L1260.17,326.91L1260.46,329.90L1260.75,332.89L1261.04,335.88L1261.34,338.87L1261.64,341.86L1261.94,344.85L1262.24,347.84L1262.55,350.83L1262.86,353.82L1263.18,356.80L1263.51,359.79L1263.84,362.78L1264.17,365.76L1264.51,368.75L1264.85,371.74L1265.19,374.72L1265.54,377.70L1265.89,380.69L1266.25,383.67L1266.60,386.66L1266.96,389.64L1267.32,392.62L1267.68,395.61L1268.04,398.59L1268.40,401.57L1268.77,404.55L1269.15,407.53L1269.53,410.51L1269.92,413.49L1270.31,416.47L1270.71,419.45L1271.11,422.43L1271.51,425.41L1271.90,428.39L1272.31,431.36L1272.71,434.34L1273.12,437.32L1273.53,440.29L1273.94,443.27L1274.37,446.24L1274.80,449.22L1275.24,452.19L1275.69,455.16L1276.15,458.13L1276.63,461.10L1277.12,464.06L1277.62,467.02L1278.14,469.98L1278.66,472.94L1279.20,475.90L1279.74,478.85L1280.30,481.80L1280.87,484.75L1281.45,487.70L1282.05,490.65L1282.66,493.59L1283.29,496.53L1283.93,499.46L1284.59,502.39L1285.26,505.32L1285.95,508.25L1286.65,511.17L1287.36,514.09L1288.09,517.00L1288.82,519.92L1289.57,522.83L1290.35,525.73L1291.15,528.62L1291.99,531.51L1292.87,534.38L1293.81,537.23L1294.82,540.06L1295.89,542.87L1297.05,545.64L1298.31,548.35L1299.75,550.97L1301.40,553.45L1303.29,555.73L1305.44,557.68L1307.87,559.12L1310.51,559.80L1313.26,559.62L1315.97,558.72L1318.60,557.38L1321.14,555.81L1323.59,554.08L1325.97,552.26L1328.32,550.38L1330.66,548.50L1333.01,546.63L1335.38,544.79L1337.81,543.04L1340.34,541.46L1343.00,540.13L1345.78,539.11L1348.67,538.40L1351.62,537.93L1354.60,537.63L1357.60,537.45L1360.60,537.37L1363.60,537.37L1366.61,537.37L1369.61,537.33L1372.61,537.22L1375.60,537.02L1378.59,536.72L1381.56,536.29L1384.49,535.71L1387.40,534.97L1390.26,534.08L1393.07,533.03L1395.80,531.82L1398.45,530.42L1400.98,528.83L1403.38,527.06L1405.65,525.11L1407.78,523.01L1409.79,520.78L1411.67,518.45L1413.44,516.03L1415.10,513.53L1416.64,510.96L1418.09,508.33L1419.48,505.67L1420.83,502.98L1422.17,500.30L1423.52,497.61L1424.89,494.94L1426.26,492.26L1427.63,489.59L1428.97,486.90L1430.29,484.20L1431.57,481.48L1432.80,478.74L1433.97,475.98L1435.11,473.20L1436.22,470.41L1437.31,467.61L1438.40,464.81L1439.51,462.01L1440.64,459.23L1441.81,456.47L1443.01,453.71L1444.24,450.97L1445.48,448.23L1446.72,445.50L1447.96,442.76L1449.18,440.01L1450.39,437.26L1451.60,434.51L1452.79,431.75L1453.96,428.98L1455.10,426.21L1456.21,423.42L1457.30,420.61L1458.35,417.80L1459.39,414.98L1460.40,412.15L1461.40,409.32L1462.39,406.48L1463.37,403.64L1464.35,400.80L1465.33,397.96L1466.30,395.12L1467.28,392.28L1468.26,389.44L1469.25,386.60L1470.24,383.76L1471.24,380.93L1472.23,378.09L1473.22,375.26L1474.22,372.42L1475.21,369.58L1476.21,366.75L1477.21,363.92L1478.23,361.09L1479.26,358.27L1480.31,355.45L1481.37,352.64L1482.44,349.84L1483.53,347.03L1484.62,344.23L1485.72,341.44L1486.83,338.65L1487.94,335.86L1489.07,333.07L1490.21,330.29L1491.36,327.52L1492.53,324.75L1493.71,321.98L1494.91,319.23L1496.12,316.48L1497.35,313.74L1498.59,311.00L1499.84,308.27L1501.09,305.54L1502.36,302.81L1503.63,300.09L1504.93,297.38L1506.24,294.68L1507.57,291.98L1508.93,289.31L1510.32,286.64L1511.75,284.00L1513.22,281.38L1514.73,278.78L1516.28,276.21L1517.87,273.66L1519.50,271.14L1521.17,268.64L1522.88,266.17L1524.63,263.73L1526.43,261.32L1528.28,258.96L1530.17,256.63L1532.13,254.35L1534.13,252.11L1536.18,249.92L1538.28,247.77L1540.43,245.68L1542.65,243.65L1544.93,241.71L1547.30,239.87L1549.77,238.17L1552.33,236.64L1555.00,235.30L1557.77,234.15L1560.60,233.16L1563.46,232.26L1566.34,231.41L1569.23,230.57L1572.11,229.74L1575.01,228.93L1577.91,228.15L1580.82,227.42L1583.75,226.76L1586.69,226.16L1589.65,225.63L1592.62,225.19L1595.60,224.81L1598.59,224.51L1601.58,224.26L1604.58,224.05L1607.58,223.87L1610.58,223.70L1613.58,223.54L1616.58,223.38L1619.58,223.22L1622.58,223.05L1625.58,222.89L1628.58,222.72L1631.58,222.57L1634.58,222.41L1637.58,222.27L1640.58,222.12L1643.58,221.99L1646.59,221.86L1649.59,221.73L1652.59,221.61L1655.59,221.49L1658.59,221.38L1661.60,221.27L1664.60,221.16L1667.60,221.06L1670.61,220.97L1673.61,220.88L1676.61,220.80L1679.62,220.72L1682.62,220.64L1685.62,220.58L1688.63,220.52L1691.63,220.46L1694.64,220.42L1697.64,220.37L1700.65,220.34L1703.65,220.31L1706.65,220.28L1709.66,220.25L1712.66,220.23L1715.67,220.21L1718.67,220.19L1721.68,220.17L1724.68,220.16L1727.69,220.14L1730.69,220.13L1733.70,220.12L1736.70,220.10L1739.71,220.09L1742.71,220.07L1745.71,220.05L1748.72,220.03L1751.72,220.01L1754.73,219.99L1757.73,219.97L1760.74,219.94L1763.74,219.91L1766.75,219.88L1769.75,219.84L1772.76,219.80L1775.76,219.76L1778.76,219.72L1781.77,219.67L1784.77,219.62L1787.78,219.57L1790.78,219.51L1793.79,219.46L1796.79,219.40L1799.79,219.35L1802.80,219.29L1805.80,219.23L1808.81,219.17L1811.81,219.11L1814.81,219.05L1817.82,218.98L1820.82,218.92L1823.83,218.86L1826.83,218.79L1829.83,218.72L1832.84,218.66L1835.84,218.59L1838.85,218.52L1841.85,218.46L1844.85,218.39L1847.86,218.32L1850.86,218.25L1853.87,218.18L1856.87,218.11L1859.87,218.04L1862.88,217.97L1865.88,217.90L1868.88,217.83L1871.89,217.76L1874.89,217.69L1877.90,217.61L1880.90,217.54L1883.90,217.47L1886.91,217.40L1889.91,217.33L1892.92,217.25L1895.92,217.18L1898.92,217.11L1901.93,217.04L1904.93,216.97L1907.93,216.89L1910.94,216.82L1913.94,216.75L1916.95,216.68L1919.95,216.61L1922.95,216.54L1925.96,216.46L1928.96,216.39L1931.97,216.32L1934.97,216.25L1937.97,216.18L1940.98,216.11L1943.98,216.04L1946.98,215.97L1949.99,215.90L1952.99,215.84L1956.00,215.77L1959.00,215.70" fill="none" stroke="#E69F00" stroke-width="2.60" stroke-linejoin="round" stroke-linecap="butt"/>
<path d="M1175.10,68.50L1177.78,67.31L1180.51,66.53L1183.27,66.48L1185.96,67.24L1188.50,68.62L1190.83,70.42L1192.95,72.51L1194.87,74.80L1196.65,77.21L1198.32,79.70L1199.93,82.24L1201.47,84.82L1202.95,87.44L1204.37,90.09L1205.75,92.76L1207.10,95.44L1208.42,98.15L1209.70,100.86L1210.95,103.60L1212.17,106.35L1213.34,109.12L1214.48,111.90L1215.58,114.70L1216.64,117.51L1217.67,120.33L1218.67,123.17L1219.64,126.01L1220.58,128.87L1221.51,131.73L1222.42,134.60L1223.31,137.47L1224.18,140.34L1225.04,143.23L1225.88,146.11L1226.70,149.01L1227.50,151.90L1228.29,154.80L1229.07,157.71L1229.84,160.61L1230.59,163.53L1231.33,166.44L1232.06,169.36L1232.77,172.28L1233.49,175.20L1234.20,178.12L1234.91,181.04L1235.63,183.96L1236.35,186.88L1237.08,189.80L1237.81,192.71L1238.55,195.63L1239.29,198.54L1240.02,201.46L1240.76,204.37L1241.49,207.29L1242.21,210.21L1242.91,213.13L1243.61,216.06L1244.29,218.98L1245.00,221.91L1245.73,224.82L1246.51,227.73L1247.35,230.61L1248.25,233.48L1249.20,236.33L1250.19,239.17L1251.21,242.00L1252.24,244.82L1253.27,247.65L1254.28,250.48L1255.27,253.32L1256.24,256.16L1257.19,259.01L1258.14,261.87L1259.09,264.72L1260.04,267.57L1261.01,270.42L1262.01,273.26L1263.03,276.08L1264.10,278.89L1265.20,281.69L1266.35,284.47L1267.52,287.24L1268.72,289.99L1269.94,292.74L1271.20,295.47L1272.50,298.18L1273.86,300.86L1275.27,303.52L1276.75,306.13L1278.30,308.70L1279.92,311.23L1281.61,313.72L1283.35,316.17L1285.15,318.57L1287.03,320.92L1289.00,323.17L1291.09,325.32L1293.32,327.31L1295.70,329.11L1298.24,330.67L1300.92,331.99L1303.70,333.06L1306.57,333.88L1309.50,334.44L1312.47,334.74L1315.45,334.75L1318.43,334.50L1321.39,334.04L1324.34,333.48L1327.28,332.87L1330.23,332.26L1333.17,331.64L1336.11,331.02L1339.05,330.40L1342.00,329.83L1344.96,329.38L1347.94,329.12L1350.94,329.06L1353.93,329.17L1356.93,329.34L1359.92,329.44L1362.91,329.36L1365.88,329.03L1368.82,328.48L1371.73,327.76L1374.61,326.91L1377.47,325.98L1380.31,324.99L1383.13,323.95L1385.93,322.86L1388.71,321.72L1391.47,320.52L1394.20,319.27L1396.92,317.99L1399.63,316.69L1402.35,315.40L1405.06,314.10L1407.76,312.79L1410.45,311.44L1413.10,310.02L1415.70,308.53L1418.26,306.96L1420.78,305.32L1423.26,303.62L1425.70,301.87L1428.12,300.08L1430.52,298.27L1432.90,296.44L1435.27,294.59L1437.64,292.72L1439.99,290.85L1442.34,288.98L1444.68,287.09L1447.01,285.19L1449.32,283.26L1451.61,281.32L1453.88,279.35L1456.15,277.38L1458.42,275.40L1460.68,273.43L1462.96,271.46L1465.25,269.51L1467.56,267.59L1469.89,265.69L1472.25,263.82L1474.62,261.98L1477.01,260.15L1479.41,258.34L1481.82,256.54L1484.24,254.77L1486.69,253.02L1489.15,251.30L1491.65,249.61L1494.16,247.97L1496.71,246.38L1499.29,244.83L1501.89,243.33L1504.53,241.88L1507.19,240.48L1509.87,239.13L1512.58,237.82L1515.30,236.55L1518.05,235.33L1520.81,234.15L1523.59,233.00L1526.39,231.90L1529.20,230.85L1532.03,229.83L1534.88,228.87L1537.74,227.95L1540.62,227.08L1543.51,226.25L1546.41,225.46L1549.32,224.71L1552.24,223.99L1555.17,223.30L1558.10,222.64L1561.04,222.00L1563.98,221.39L1566.93,220.80L1569.89,220.25L1572.85,219.73L1575.81,219.24L1578.78,218.79L1581.76,218.38L1584.74,218.00L1587.73,217.67L1590.73,217.39L1593.72,217.16L1596.72,216.99L1599.73,216.87L1602.73,216.79L1605.74,216.75L1608.74,216.74L1611.75,216.74L1614.76,216.75L1617.76,216.76L1620.77,216.77L1623.78,216.76L1626.78,216.74L1629.79,216.69L1632.80,216.62L1635.80,216.54L1638.81,216.44L1641.81,216.35L1644.82,216.24L1647.82,216.14L1650.83,216.03L1653.83,215.92L1656.84,215.82L1659.84,215.72L1662.85,215.62L1665.85,215.53L1668.86,215.45L1671.86,215.37L1674.87,215.30L1677.88,215.24L1680.88,215.19L1683.89,215.15L1686.89,215.10L1689.90,215.07L1692.91,215.04L1695.91,215.01L1698.92,214.98L1701.93,214.96L1704.93,214.94L1707.94,214.93L1710.95,214.92L1713.95,214.90L1716.96,214.90L1719.97,214.89L1722.97,214.88L1725.98,214.88L1728.99,214.87L1731.99,214.87L1735.00,214.87L1738.01,214.87L1741.01,214.87L1744.02,214.87L1747.03,214.88L1750.03,214.88L1753.04,214.88L1756.05,214.88L1759.05,214.89L1762.06,214.89L1765.07,214.89L1768.07,214.89L1771.08,214.90L1774.09,214.90L1777.09,214.90L1780.10,214.90L1783.11,214.90L1786.11,214.90L1789.12,214.91L1792.13,214.91L1795.14,214.91L1798.14,214.92L1801.15,214.92L1804.16,214.93L1807.16,214.93L1810.17,214.94L1813.18,214.95L1816.18,214.96L1819.19,214.96L1822.20,214.97L1825.20,214.98L1828.21,214.99L1831.22,215.00L1834.22,215.01L1837.23,215.02L1840.24,215.03L1843.24,215.04L1846.25,215.05L1849.26,215.06L1852.26,215.07L1855.27,215.09L1858.28,215.10L1861.28,215.11L1864.29,215.12L1867.30,215.13L1870.30,215.14L1873.31,215.16L1876.32,215.17L1879.32,215.18L1882.33,215.19L1885.34,215.21L1888.34,215.22L1891.35,215.23L1894.36,215.24L1897.36,215.26L1900.37,215.27L1903.38,215.28L1906.38,215.30L1909.39,215.31L1912.40,215.32L1915.40,215.33L1918.41,215.35L1921.42,215.36L1924.42,215.37L1927.43,215.38L1930.44,215.39L1933.44,215.41L1936.45,215.42L1939.46,215.43L1942.46,215.44L1945.47,215.45L1948.48,215.46L1951.48,215.47L1954.49,215.48L1957.50,215.49L1959.00,215.50" fill="none" stroke="#D55E00" stroke-width="2.60" stroke-linejoin="round" stroke-linecap="butt"/>
<path d="M1174.80,197.20L1176.65,199.57L1178.57,201.87L1180.62,204.04L1182.84,206.00L1185.27,207.63L1187.91,208.72L1190.74,209.20L1193.67,209.21L1196.65,209.00L1199.64,208.83L1202.64,208.75L1205.64,208.81L1208.63,209.01L1211.61,209.35L1214.59,209.74L1217.56,210.04L1220.52,210.07L1223.47,209.78L1226.41,209.35L1229.33,209.08L1232.23,209.26L1235.06,209.96L1237.81,211.05L1240.52,212.32L1243.25,213.56L1246.04,214.63L1248.89,215.51L1251.78,216.31L1254.61,217.22L1257.29,218.42L1259.72,220.04L1261.85,222.06L1263.70,224.38L1265.31,226.89L1266.73,229.52L1267.99,232.24L1269.09,235.03L1270.07,237.87L1270.94,240.75L1271.76,243.64L1272.55,246.54L1273.32,249.44L1274.10,252.35L1274.87,255.26L1275.63,258.17L1276.37,261.08L1277.09,264.00L1277.79,266.92L1278.49,269.85L1279.17,272.78L1279.84,275.71L1280.50,278.64L1281.16,281.58L1281.81,284.51L1282.44,287.45L1283.06,290.40L1283.67,293.34L1284.26,296.29L1284.84,299.24L1285.41,302.19L1285.98,305.15L1286.55,308.10L1287.11,311.05L1287.69,314.00L1288.27,316.95L1288.86,319.90L1289.47,322.85L1290.10,325.79L1290.74,328.72L1291.40,331.66L1292.08,334.59L1292.77,337.52L1293.47,340.44L1294.17,343.36L1294.89,346.28L1295.60,349.21L1296.32,352.13L1297.04,355.05L1297.75,357.97L1298.44,360.90L1299.09,363.83L1299.70,366.77L1300.28,369.72L1300.87,372.67L1301.49,375.61L1302.18,378.53L1303.01,381.42L1304.01,384.24L1305.22,386.97L1306.65,389.60L1308.28,392.10L1310.13,394.43L1312.21,396.55L1314.53,398.38L1317.08,399.85L1319.81,400.90L1322.66,401.44L1325.54,401.38L1328.34,400.71L1331.03,399.53L1333.59,398.02L1336.04,396.30L1338.40,394.45L1340.69,392.51L1342.99,390.58L1345.36,388.76L1347.87,387.17L1350.54,385.89L1353.35,384.94L1356.26,384.30L1359.23,383.93L1362.22,383.79L1365.21,383.84L1368.21,383.99L1371.21,384.13L1374.19,384.14L1377.16,383.89L1380.08,383.32L1382.95,382.49L1385.78,381.50L1388.58,380.42L1391.37,379.30L1394.15,378.15L1396.92,376.97L1399.68,375.78L1402.43,374.57L1405.18,373.34L1407.92,372.11L1410.66,370.86L1413.38,369.59L1416.08,368.27L1418.75,366.88L1421.37,365.43L1423.95,363.88L1426.46,362.23L1428.91,360.49L1431.29,358.67L1433.60,356.75L1435.85,354.75L1438.01,352.67L1440.10,350.52L1442.12,348.29L1444.05,345.98L1445.90,343.62L1447.69,341.21L1449.43,338.76L1451.15,336.29L1452.84,333.80L1454.54,331.32L1456.25,328.85L1457.97,326.38L1459.72,323.93L1461.47,321.49L1463.23,319.06L1465.00,316.62L1466.76,314.18L1468.52,311.75L1470.29,309.31L1472.06,306.88L1473.83,304.45L1475.61,302.03L1477.38,299.60L1479.14,297.16L1480.89,294.71L1482.62,292.26L1484.36,289.80L1486.10,287.35L1487.86,284.91L1489.65,282.49L1491.47,280.10L1493.34,277.75L1495.26,275.44L1497.24,273.18L1499.28,270.97L1501.37,268.81L1503.50,266.69L1505.67,264.61L1507.89,262.57L1510.14,260.58L1512.42,258.63L1514.75,256.72L1517.11,254.86L1519.50,253.05L1521.94,251.29L1524.42,249.59L1526.94,247.95L1529.49,246.36L1532.07,244.82L1534.68,243.32L1537.31,241.86L1539.95,240.43L1542.61,239.02L1545.28,237.64L1547.97,236.30L1550.69,235.01L1553.43,233.78L1556.20,232.62L1559.00,231.52L1561.81,230.47L1564.65,229.46L1567.49,228.48L1570.35,227.55L1573.22,226.67L1576.11,225.85L1579.02,225.09L1581.95,224.40L1584.89,223.78L1587.84,223.22L1590.81,222.73L1593.78,222.30L1596.76,221.92L1599.75,221.59L1602.75,221.30L1605.74,221.05L1608.74,220.82L1611.74,220.62L1614.74,220.44L1617.74,220.27L1620.75,220.13L1623.75,219.99L1626.76,219.87L1629.76,219.76L1632.77,219.66L1635.77,219.57L1638.78,219.48L1641.78,219.40L1644.79,219.33L1647.80,219.26L1650.80,219.19L1653.81,219.12L1656.82,219.06L1659.82,218.99L1662.83,218.93L1665.84,218.86L1668.84,218.79L1671.85,218.72L1674.85,218.64L1677.86,218.56L1680.87,218.48L1683.87,218.39L1686.88,218.31L1689.88,218.24L1692.89,218.17L1695.90,218.10L1698.90,218.04L1701.91,217.99L1704.92,217.94L1707.92,217.89L1710.93,217.85L1713.94,217.81L1716.94,217.78L1719.95,217.75L1722.96,217.72L1725.97,217.69L1728.97,217.66L1731.98,217.64L1734.99,217.61L1737.99,217.59L1741.00,217.57L1744.01,217.54L1747.01,217.52L1750.02,217.50L1753.03,217.47L1756.04,217.45L1759.04,217.42L1762.05,217.40L1765.06,217.37L1768.06,217.34L1771.07,217.31L1774.08,217.27L1777.08,217.24L1780.09,217.20L1783.10,217.16L1786.11,217.12L1789.11,217.08L1792.12,217.04L1795.13,217.00L1798.13,216.96L1801.14,216.92L1804.15,216.88L1807.15,216.84L1810.16,216.80L1813.17,216.76L1816.17,216.72L1819.18,216.68L1822.19,216.64L1825.19,216.60L1828.20,216.56L1831.21,216.52L1834.22,216.48L1837.22,216.44L1840.23,216.40L1843.24,216.36L1846.24,216.32L1849.25,216.28L1852.26,216.24L1855.26,216.20L1858.27,216.15L1861.28,216.11L1864.28,216.07L1867.29,216.03L1870.30,215.99L1873.30,215.95L1876.31,215.91L1879.32,215.87L1882.32,215.83L1885.33,215.79L1888.34,215.75L1891.35,215.71L1894.35,215.67L1897.36,215.63L1900.37,215.59L1903.37,215.55L1906.38,215.51L1909.39,215.47L1912.39,215.43L1915.40,215.39L1918.41,215.35L1921.41,215.30L1924.42,215.26L1927.43,215.22L1930.43,215.18L1933.44,215.14L1936.45,215.10L1939.46,215.06L1942.46,215.02L1945.47,214.98L1948.48,214.94L1951.48,214.90L1954.49,214.86L1957.50,214.82L1959.00,214.80" fill="none" stroke="#CC79A7" stroke-width="2.60" stroke-linejoin="round" stroke-linecap="butt"/>
<path d="M1175.10,191.00L1177.94,191.98L1180.78,192.97L1183.62,193.97L1186.44,195.03L1189.22,196.15L1191.97,197.36L1194.69,198.65L1197.37,200.02L1200.01,201.44L1202.63,202.93L1205.20,204.48L1207.74,206.10L1210.23,207.78L1212.68,209.52L1215.11,211.30L1217.53,213.08L1219.96,214.84L1222.43,216.57L1224.93,218.23L1227.46,219.85L1230.02,221.44L1232.60,222.99L1235.19,224.52L1237.79,226.03L1240.39,227.55L1242.98,229.06L1245.58,230.58L1248.18,232.09L1250.78,233.60L1253.39,235.10L1256.00,236.60L1258.62,238.08L1261.25,239.54L1263.89,240.98L1266.54,242.39L1269.22,243.77L1271.91,245.10L1274.63,246.40L1277.35,247.67L1280.09,248.92L1282.83,250.15L1285.57,251.40L1288.30,252.66L1291.02,253.94L1293.73,255.25L1296.43,256.57L1299.14,257.88L1301.86,259.18L1304.59,260.42L1307.35,261.61L1310.14,262.74L1312.95,263.81L1315.78,264.81L1318.65,265.70L1321.55,266.41L1324.50,266.87L1327.47,267.04L1330.45,266.90L1333.42,266.53L1336.38,266.01L1339.33,265.44L1342.29,264.89L1345.25,264.40L1348.23,263.94L1351.20,263.52L1354.18,263.10L1357.16,262.70L1360.15,262.32L1363.13,261.96L1366.13,261.64L1369.12,261.37L1372.12,261.12L1375.11,260.87L1378.11,260.59L1381.09,260.24L1384.06,259.79L1387.01,259.22L1389.94,258.54L1392.85,257.78L1395.74,256.96L1398.63,256.11L1401.51,255.24L1404.38,254.37L1407.26,253.48L1410.13,252.57L1412.99,251.65L1415.84,250.70L1418.70,249.75L1421.54,248.78L1424.39,247.79L1427.23,246.80L1430.06,245.80L1432.90,244.79L1435.73,243.78L1438.56,242.77L1441.40,241.77L1444.23,240.76L1447.06,239.74L1449.89,238.70L1452.71,237.66L1455.53,236.61L1458.35,235.57L1461.18,234.55L1464.02,233.56L1466.88,232.62L1469.75,231.74L1472.64,230.92L1475.55,230.16L1478.48,229.47L1481.42,228.82L1484.36,228.23L1487.32,227.66L1490.28,227.13L1493.24,226.62L1496.21,226.13L1499.18,225.65L1502.15,225.19L1505.13,224.75L1508.11,224.34L1511.09,223.95L1514.08,223.58L1517.06,223.22L1520.05,222.87L1523.04,222.53L1526.03,222.19L1529.02,221.85L1532.01,221.52L1535.00,221.19L1537.99,220.86L1540.98,220.56L1543.97,220.26L1546.97,219.99L1549.96,219.74L1552.96,219.51L1555.96,219.30L1558.97,219.11L1561.97,218.94L1564.97,218.79L1567.98,218.66L1570.99,218.54L1573.99,218.43L1577.00,218.34L1580.00,218.25L1583.01,218.17L1586.02,218.10L1589.03,218.03L1592.03,217.96L1595.04,217.91L1598.05,217.86L1601.06,217.82L1604.06,217.78L1607.07,217.76L1610.08,217.73L1613.09,217.71L1616.10,217.69L1619.10,217.67L1622.11,217.66L1625.12,217.65L1628.13,217.64L1631.14,217.63L1634.14,217.62L1637.15,217.62L1640.16,217.61L1643.17,217.61L1646.18,217.60L1649.18,217.60L1652.19,217.59L1655.20,217.59L1658.21,217.58L1661.22,217.58L1664.23,217.57L1667.23,217.56L1670.24,217.55L1673.25,217.53L1676.26,217.52L1679.27,217.50L1682.27,217.49L1685.28,217.47L1688.29,217.45L1691.30,217.43L1694.31,217.41L1697.31,217.40L1700.32,217.38L1703.33,217.36L1706.34,217.34L1709.35,217.33L1712.35,217.31L1715.36,217.29L1718.37,217.27L1721.38,217.26L1724.39,217.24L1727.39,217.22L1730.40,217.20L1733.41,217.18L1736.42,217.16L1739.43,217.14L1742.43,217.12L1745.44,217.10L1748.45,217.07L1751.46,217.05L1754.47,217.03L1757.47,217.00L1760.48,216.98L1763.49,216.95L1766.50,216.93L1769.51,216.90L1772.51,216.87L1775.52,216.84L1778.53,216.81L1781.54,216.78L1784.55,216.75L1787.55,216.72L1790.56,216.69L1793.57,216.66L1796.58,216.62L1799.59,216.59L1802.59,216.56L1805.60,216.52L1808.61,216.49L1811.62,216.45L1814.62,216.41L1817.63,216.38L1820.64,216.34L1823.65,216.30L1826.66,216.27L1829.66,216.23L1832.67,216.19L1835.68,216.15L1838.69,216.11L1841.70,216.07L1844.70,216.03L1847.71,215.99L1850.72,215.95L1853.73,215.91L1856.73,215.87L1859.74,215.83L1862.75,215.79L1865.76,215.75L1868.77,215.71L1871.77,215.67L1874.78,215.63L1877.79,215.59L1880.80,215.55L1883.80,215.51L1886.81,215.47L1889.82,215.43L1892.83,215.39L1895.84,215.35L1898.84,215.31L1901.85,215.26L1904.86,215.22L1907.87,215.18L1910.87,215.14L1913.88,215.10L1916.89,215.06L1919.90,215.02L1922.91,214.98L1925.91,214.94L1928.92,214.90L1931.93,214.86L1934.94,214.82L1937.95,214.78L1940.95,214.74L1943.96,214.70L1946.97,214.66L1949.98,214.62L1952.98,214.58L1955.99,214.54L1959.00,214.50" fill="none" stroke="#0072B2" stroke-width="2.60" stroke-linejoin="round" stroke-linecap="butt"/>
<path d="M1175.10,165.80L1177.61,164.16L1180.17,162.60L1182.81,161.24L1185.58,160.20L1188.46,159.54L1191.40,159.28L1194.34,159.44L1197.23,160.03L1200.00,161.02L1202.63,162.39L1205.10,164.05L1207.42,165.93L1209.65,167.93L1211.87,169.96L1214.09,171.98L1216.34,173.98L1218.59,175.97L1220.84,177.97L1223.09,179.96L1225.34,181.96L1227.58,183.96L1229.82,185.96L1232.05,187.98L1234.26,190.01L1236.46,192.06L1238.63,194.14L1240.78,196.24L1242.89,198.38L1244.95,200.56L1246.96,202.80L1248.92,205.08L1250.82,207.40L1252.67,209.77L1254.46,212.18L1256.18,214.64L1257.84,217.15L1259.45,219.69L1261.01,222.26L1262.55,224.84L1264.08,227.43L1265.60,230.02L1267.12,232.61L1268.63,235.21L1270.14,237.81L1271.67,240.40L1273.24,242.96L1274.86,245.49L1276.53,247.98L1278.24,250.45L1279.99,252.90L1281.79,255.31L1283.63,257.68L1285.54,260.00L1287.51,262.27L1289.53,264.49L1291.61,266.66L1293.72,268.80L1295.88,270.89L1298.08,272.93L1300.33,274.92L1302.65,276.83L1305.04,278.64L1307.51,280.34L1310.06,281.92L1312.69,283.36L1315.39,284.67L1318.15,285.84L1320.96,286.87L1323.83,287.74L1326.74,288.44L1329.69,288.94L1332.67,289.21L1335.66,289.26L1338.65,289.11L1341.64,288.84L1344.62,288.50L1347.61,288.15L1350.60,287.83L1353.59,287.53L1356.58,287.24L1359.57,286.95L1362.56,286.66L1365.55,286.36L1368.55,286.07L1371.54,285.80L1374.53,285.55L1377.53,285.30L1380.50,284.95L1383.45,284.43L1386.34,283.69L1389.18,282.74L1391.97,281.64L1394.74,280.47L1397.50,279.29L1400.29,278.17L1403.10,277.10L1405.92,276.08L1408.76,275.09L1411.60,274.10L1414.44,273.12L1417.28,272.14L1420.13,271.17L1422.97,270.20L1425.82,269.23L1428.67,268.27L1431.51,267.30L1434.35,266.31L1437.18,265.30L1440.00,264.27L1442.81,263.19L1445.60,262.08L1448.37,260.92L1451.12,259.71L1453.86,258.46L1456.59,257.20L1459.31,255.92L1462.03,254.65L1464.76,253.40L1467.51,252.18L1470.27,251.00L1473.06,249.87L1475.86,248.78L1478.67,247.72L1481.50,246.70L1484.33,245.70L1487.17,244.72L1490.02,243.75L1492.87,242.79L1495.72,241.83L1498.57,240.87L1501.41,239.91L1504.26,238.94L1507.10,237.97L1509.95,237.00L1512.80,236.04L1515.65,235.10L1518.52,234.19L1521.39,233.30L1524.27,232.45L1527.16,231.63L1530.06,230.85L1532.97,230.09L1535.89,229.36L1538.81,228.67L1541.74,228.00L1544.68,227.38L1547.63,226.79L1550.59,226.25L1553.55,225.75L1556.52,225.30L1559.50,224.89L1562.48,224.53L1565.47,224.20L1568.46,223.90L1571.45,223.63L1574.45,223.37L1577.44,223.12L1580.44,222.88L1583.44,222.64L1586.43,222.39L1589.43,222.14L1592.42,221.88L1595.42,221.61L1598.41,221.33L1601.40,221.07L1604.40,220.81L1607.39,220.56L1610.39,220.33L1613.39,220.11L1616.39,219.92L1619.39,219.75L1622.39,219.60L1625.39,219.46L1628.40,219.33L1631.40,219.22L1634.40,219.12L1637.41,219.03L1640.41,218.95L1643.42,218.88L1646.42,218.81L1649.43,218.74L1652.43,218.68L1655.44,218.62L1658.44,218.57L1661.45,218.51L1664.46,218.46L1667.46,218.41L1670.47,218.36L1673.47,218.31L1676.48,218.26L1679.48,218.21L1682.49,218.16L1685.49,218.11L1688.50,218.07L1691.51,218.03L1694.51,217.99L1697.52,217.96L1700.52,217.92L1703.53,217.89L1706.53,217.86L1709.54,217.84L1712.55,217.81L1715.55,217.79L1718.56,217.76L1721.56,217.74L1724.57,217.72L1727.57,217.69L1730.58,217.67L1733.59,217.65L1736.59,217.63L1739.60,217.60L1742.60,217.58L1745.61,217.56L1748.61,217.53L1751.62,217.51L1754.63,217.48L1757.63,217.45L1760.64,217.42L1763.64,217.39L1766.65,217.36L1769.65,217.33L1772.66,217.29L1775.67,217.25L1778.67,217.22L1781.68,217.18L1784.68,217.14L1787.69,217.09L1790.69,217.05L1793.70,217.01L1796.71,216.96L1799.71,216.92L1802.72,216.87L1805.72,216.83L1808.73,216.78L1811.73,216.73L1814.74,216.69L1817.74,216.64L1820.75,216.59L1823.76,216.54L1826.76,216.49L1829.77,216.44L1832.77,216.39L1835.78,216.34L1838.78,216.29L1841.79,216.24L1844.79,216.19L1847.80,216.14L1850.80,216.09L1853.81,216.03L1856.82,215.98L1859.82,215.93L1862.83,215.88L1865.83,215.83L1868.84,215.77L1871.84,215.72L1874.85,215.67L1877.85,215.62L1880.86,215.56L1883.86,215.51L1886.87,215.46L1889.88,215.40L1892.88,215.35L1895.89,215.30L1898.89,215.24L1901.90,215.19L1904.90,215.14L1907.91,215.09L1910.91,215.03L1913.92,214.98L1916.92,214.93L1919.93,214.87L1922.93,214.82L1925.94,214.77L1928.95,214.72L1931.95,214.66L1934.96,214.61L1937.96,214.56L1940.97,214.51L1943.97,214.46L1946.98,214.40L1949.98,214.35L1952.99,214.30L1955.99,214.25L1959.00,214.20" fill="none" stroke="#56B4E9" stroke-width="2.60" stroke-linejoin="round" stroke-linecap="butt"/>
<path d="M1175.10,121.40L1177.90,120.70L1180.74,120.33L1183.62,120.50L1186.52,121.26L1189.40,122.12L1192.25,122.92L1195.03,123.71L1197.67,125.21L1200.17,127.06L1202.52,129.24L1204.74,131.53L1206.82,133.05L1208.77,134.41L1210.60,137.12L1212.36,139.89L1214.07,142.04L1215.76,144.10L1217.44,147.42L1219.13,150.96L1220.84,153.13L1222.60,154.76L1224.38,156.43L1226.15,159.90L1227.84,163.23L1229.42,165.74L1230.89,167.96L1232.27,170.02L1233.59,172.52L1234.85,175.69L1236.06,178.14L1237.21,180.96L1238.30,183.69L1239.37,185.75L1240.45,188.83L1241.59,192.48L1242.84,195.88L1244.22,198.77L1245.75,200.82L1247.40,202.72L1249.15,205.30L1250.99,207.74L1252.88,209.68L1254.82,212.63L1256.72,215.78L1258.53,217.91L1260.23,219.75L1261.85,222.22L1263.42,225.42L1265.01,227.38L1266.63,229.36L1268.32,231.89L1270.06,234.54L1271.84,237.66L1273.67,240.12L1275.56,242.10L1277.52,244.42L1279.59,246.14L1281.76,248.05L1284.07,250.23L1286.48,252.06L1289.01,253.65L1291.64,255.39L1294.37,256.89L1297.18,257.76L1300.06,257.87L1303.00,257.97L1305.97,257.76L1308.95,257.44L1311.91,257.29L1314.83,257.29L1317.74,256.39L1320.65,255.32L1323.58,254.90L1326.55,254.37L1329.54,254.01L1332.53,254.58L1335.53,255.39L1338.54,255.12L1341.54,255.09L1344.55,254.82L1347.56,254.65L1350.56,254.50L1353.57,254.25L1356.58,253.64L1359.59,253.68L1362.59,254.25L1365.60,254.37L1368.61,254.52L1371.61,254.32L1374.62,254.45L1377.63,254.77L1380.64,254.09L1383.64,253.62L1386.65,254.35L1389.66,254.40L1392.66,253.80L1395.66,253.37L1398.67,253.57L1401.67,253.62L1404.67,252.91L1407.67,252.26L1410.67,252.51L1413.67,253.02L1416.67,252.43L1419.66,251.79L1422.64,251.76L1425.58,251.22L1428.44,250.24L1431.21,249.55L1433.88,248.72L1436.49,246.87L1439.08,244.80L1441.71,243.52L1444.40,242.36L1447.17,241.33L1450.00,240.57L1452.86,240.05L1455.75,239.07L1458.65,237.55L1461.55,236.43L1464.45,235.98L1467.34,235.38L1470.22,234.31L1473.09,232.92L1475.94,231.90L1478.78,231.42L1481.61,230.71L1484.43,229.36L1487.26,228.51L1490.09,227.94L1492.92,226.58L1495.77,225.78L1498.63,224.61L1501.50,223.72L1504.38,223.30L1507.27,222.45L1510.17,221.41L1513.09,220.05L1516.01,218.70L1518.94,217.72L1521.87,217.06L1524.81,217.45L1527.76,216.85L1530.72,216.18L1533.67,216.29L1536.64,215.79L1539.61,215.42L1542.58,215.65L1545.56,214.95L1548.55,213.78L1551.54,213.17L1554.53,213.43L1557.54,213.26L1560.54,212.29L1563.54,211.88L1566.55,212.52L1569.55,212.68L1572.56,212.86L1575.56,212.44L1578.57,212.24L1581.57,211.68L1584.58,211.57L1587.59,211.82L1590.59,212.14L1593.60,211.73L1596.61,211.17L1599.61,210.95L1602.62,211.01L1605.63,211.41L1608.64,211.60L1611.64,210.76L1614.65,210.80L1617.66,211.89L1620.67,212.80L1623.67,213.09L1626.68,211.85L1629.69,210.72L1632.70,210.65L1635.70,211.13L1638.71,211.77L1641.72,211.70L1644.73,211.24L1647.73,211.24L1650.74,210.87L1653.75,210.76L1656.76,211.54L1659.76,211.51L1662.77,211.20L1665.78,211.89L1668.78,211.92L1671.79,210.76L1674.80,209.70L1677.81,210.54L1680.81,211.51L1683.82,211.67L1686.83,211.21L1689.84,211.15L1692.84,212.01L1695.85,212.60L1698.86,212.14L1701.87,211.42L1704.87,211.26L1707.88,211.48L1710.89,211.81L1713.90,212.02L1716.90,211.37L1719.91,211.18L1722.92,211.27L1725.93,210.55L1728.93,210.15L1731.94,210.57L1734.95,210.56L1737.96,210.59L1740.96,210.89L1743.97,211.38L1746.98,211.86L1749.99,211.83L1752.99,211.81L1756.00,211.77L1759.01,211.97L1762.02,212.38L1765.02,212.03L1768.03,212.01L1771.04,211.30L1774.04,210.50L1777.05,210.85L1780.06,211.49L1783.07,211.57L1786.07,211.17L1789.08,211.26L1792.09,211.08L1795.10,211.77L1798.10,211.91L1801.11,211.67L1804.12,211.81L1807.13,211.62L1810.13,211.73L1813.14,211.98L1816.15,211.81L1819.16,212.24L1822.16,212.34L1825.17,211.76L1828.18,211.41L1831.19,211.63L1834.19,212.02L1837.20,212.12L1840.21,211.88L1843.22,212.12L1846.22,211.90L1849.23,211.91L1852.24,211.66L1855.24,211.59L1858.25,211.86L1861.26,212.18L1864.27,211.20L1867.27,210.69L1870.28,211.45L1873.29,211.20L1876.30,210.98L1879.30,211.64L1882.31,212.05L1885.32,212.61L1888.33,212.97L1891.33,212.56L1894.34,212.31L1897.35,211.66L1900.36,211.66L1903.36,212.13L1906.37,211.88L1909.38,211.85L1912.39,211.76L1915.39,211.44L1918.40,212.09L1921.41,212.51L1924.41,212.33L1927.42,211.86L1930.43,211.83L1933.44,211.81L1936.44,211.76L1939.45,212.31L1942.46,212.37L1945.47,213.20L1948.47,213.60L1951.48,213.37L1954.49,213.07L1957.50,213.34L1959.00,213.52" fill="none" stroke="#009E73" stroke-width="2.60" stroke-linejoin="round" stroke-linecap="butt"/>
</g>
<line x1="178.1" y1="797.3" x2="178.1" y2="1367.7" stroke="#000" stroke-width="2.30" stroke-linecap="butt"/>
<line x1="164.6" y1="1366.6" x2="973.3" y2="1366.6" stroke="#000" stroke-width="2.30" stroke-linecap="butt"/>
<text transform="translate(151.5,1377.4) scale(1,1.060)" font-size="29.6" text-anchor="end">0</text>
<line x1="170.9" y1="1309.7" x2="178.1" y2="1309.7" stroke="#000" stroke-width="2.30" stroke-linecap="butt"/>
<line x1="164.6" y1="1252.7" x2="178.1" y2="1252.7" stroke="#000" stroke-width="2.30" stroke-linecap="butt"/>
<text transform="translate(151.5,1263.5) scale(1,1.060)" font-size="29.6" text-anchor="end">20</text>
<line x1="170.9" y1="1195.8" x2="178.1" y2="1195.8" stroke="#000" stroke-width="2.30" stroke-linecap="butt"/>
<line x1="164.6" y1="1138.9" x2="178.1" y2="1138.9" stroke="#000" stroke-width="2.30" stroke-linecap="butt"/>
<text transform="translate(151.5,1149.7) scale(1,1.060)" font-size="29.6" text-anchor="end">40</text>
<line x1="170.9" y1="1081.9" x2="178.1" y2="1081.9" stroke="#000" stroke-width="2.30" stroke-linecap="butt"/>
<line x1="164.6" y1="1025.0" x2="178.1" y2="1025.0" stroke="#000" stroke-width="2.30" stroke-linecap="butt"/>
<text transform="translate(151.5,1035.8) scale(1,1.060)" font-size="29.6" text-anchor="end">60</text>
<line x1="170.9" y1="968.1" x2="178.1" y2="968.1" stroke="#000" stroke-width="2.30" stroke-linecap="butt"/>
<line x1="164.6" y1="911.2" x2="178.1" y2="911.2" stroke="#000" stroke-width="2.30" stroke-linecap="butt"/>
<text transform="translate(151.5,922.0) scale(1,1.060)" font-size="29.6" text-anchor="end">80</text>
<line x1="170.9" y1="854.2" x2="178.1" y2="854.2" stroke="#000" stroke-width="2.30" stroke-linecap="butt"/>
<line x1="164.6" y1="797.3" x2="178.1" y2="797.3" stroke="#000" stroke-width="2.30" stroke-linecap="butt"/>
<text transform="translate(151.5,808.1) scale(1,1.060)" font-size="29.6" text-anchor="end">100</text>
<line x1="201.4" y1="1366.6" x2="201.4" y2="1373.4" stroke="#000" stroke-width="2.30" stroke-linecap="butt"/>
<line x1="278.5" y1="1366.6" x2="278.5" y2="1379.2" stroke="#000" stroke-width="2.30" stroke-linecap="butt"/>
<text transform="translate(278.5,1413.3) scale(1,1.060)" font-size="29.6" text-anchor="middle">100</text>
<line x1="355.6" y1="1366.6" x2="355.6" y2="1373.4" stroke="#000" stroke-width="2.30" stroke-linecap="butt"/>
<line x1="432.7" y1="1366.6" x2="432.7" y2="1379.2" stroke="#000" stroke-width="2.30" stroke-linecap="butt"/>
<text transform="translate(432.7,1413.3) scale(1,1.060)" font-size="29.6" text-anchor="middle">200</text>
<line x1="509.7" y1="1366.6" x2="509.7" y2="1373.4" stroke="#000" stroke-width="2.30" stroke-linecap="butt"/>
<line x1="586.8" y1="1366.6" x2="586.8" y2="1379.2" stroke="#000" stroke-width="2.30" stroke-linecap="butt"/>
<text transform="translate(586.8,1413.3) scale(1,1.060)" font-size="29.6" text-anchor="middle">300</text>
<line x1="663.9" y1="1366.6" x2="663.9" y2="1373.4" stroke="#000" stroke-width="2.30" stroke-linecap="butt"/>
<line x1="741.0" y1="1366.6" x2="741.0" y2="1379.2" stroke="#000" stroke-width="2.30" stroke-linecap="butt"/>
<text transform="translate(741.0,1413.3) scale(1,1.060)" font-size="29.6" text-anchor="middle">400</text>
<line x1="818.1" y1="1366.6" x2="818.1" y2="1373.4" stroke="#000" stroke-width="2.30" stroke-linecap="butt"/>
<line x1="895.1" y1="1366.6" x2="895.1" y2="1379.2" stroke="#000" stroke-width="2.30" stroke-linecap="butt"/>
<text transform="translate(895.1,1413.3) scale(1,1.060)" font-size="29.6" text-anchor="middle">500</text>
<line x1="972.2" y1="1366.6" x2="972.2" y2="1373.4" stroke="#000" stroke-width="2.30" stroke-linecap="butt"/>
<text x="550.8" y="1455.2" font-size="29.0" text-anchor="middle">Temperature (°C)</text>
<text transform="translate(76.6,1099.1) rotate(-90)" font-size="29.0" text-anchor="middle">Weight %</text>
<line x1="210.0" y1="1131.7" x2="278.2" y2="1131.7" stroke="#E69F00" stroke-width="2.60" stroke-linecap="round"/>
<text x="289.7" y="1140.1" font-size="24.9" text-anchor="start">BSA-pAAm, <tspan font-style="italic">M</tspan><tspan font-size="17.2" dy="8.2">n</tspan><tspan dy="-8.2">/</tspan><tspan font-style="italic">I</tspan><tspan font-size="17.2" dy="8.2">o</tspan><tspan dy="-8.2"> = 500/1</tspan></text>
<line x1="210.0" y1="1179.1" x2="278.2" y2="1179.1" stroke="#D55E00" stroke-width="2.60" stroke-linecap="round"/>
<text x="289.7" y="1187.5" font-size="24.9" text-anchor="start">BSA-pAAm, <tspan font-style="italic">M</tspan><tspan font-size="17.2" dy="8.2">n</tspan><tspan dy="-8.2">/</tspan><tspan font-style="italic">I</tspan><tspan font-size="17.2" dy="8.2">o</tspan><tspan dy="-8.2"> = 1000/1</tspan></text>
<line x1="210.0" y1="1227.0" x2="278.2" y2="1227.0" stroke="#56B4E9" stroke-width="2.60" stroke-linecap="round"/>
<text x="289.7" y="1235.4" font-size="24.9" text-anchor="start">BSA-pAAm, <tspan font-style="italic">M</tspan><tspan font-size="17.2" dy="8.2">n</tspan><tspan dy="-8.2">/</tspan><tspan font-style="italic">I</tspan><tspan font-size="17.2" dy="8.2">o</tspan><tspan dy="-8.2"> = 1500/1</tspan></text>
<line x1="210.0" y1="1274.7" x2="278.2" y2="1274.7" stroke="#0072B2" stroke-width="2.60" stroke-linecap="round"/>
<text x="289.7" y="1283.1" font-size="24.9" text-anchor="start">BSA-pAAm, <tspan font-style="italic">M</tspan><tspan font-size="17.2" dy="8.2">n</tspan><tspan dy="-8.2">/</tspan><tspan font-style="italic">I</tspan><tspan font-size="17.2" dy="8.2">o</tspan><tspan dy="-8.2"> = 2000/1</tspan></text>
<line x1="210.0" y1="1322.1" x2="278.2" y2="1322.1" stroke="#009E73" stroke-width="2.60" stroke-linecap="round"/>
<text x="289.7" y="1330.6" font-size="24.9" text-anchor="start">BSA</text>
<path d="M178.80,805.00L181.50,806.33L184.20,807.66L186.89,809.00L189.59,810.33L192.29,811.66L194.98,812.99L197.68,814.32L200.38,815.65L203.08,816.97L205.78,818.31L208.47,819.66L211.14,821.03L213.81,822.42L216.48,823.81L219.15,825.19L221.84,826.54L224.54,827.86L227.27,829.13L230.02,830.33L232.81,831.46L235.63,832.49L238.49,833.44L241.36,834.31L244.26,835.11L247.18,835.83L250.11,836.49L253.06,837.09L256.02,837.63L258.99,838.12L261.96,838.57L264.94,838.97L267.93,839.33L270.92,839.63L273.92,839.89L276.92,840.09L279.92,840.26L282.93,840.38L285.93,840.49L288.94,840.57L291.95,840.63L294.95,840.69L297.96,840.74L300.97,840.79L303.98,840.85L306.99,840.91L309.99,840.98L313.00,841.05L316.01,841.11L319.02,841.17L322.02,841.22L325.03,841.27L328.04,841.30L331.05,841.34L334.06,841.37L337.06,841.39L340.07,841.42L343.08,841.44L346.09,841.46L349.10,841.48L352.11,841.50L355.11,841.52L358.12,841.53L361.13,841.55L364.14,841.57L367.15,841.59L370.15,841.62L373.16,841.64L376.17,841.67L379.18,841.70L382.19,841.73L385.20,841.77L388.20,841.81L391.21,841.86L394.22,841.92L397.23,841.99L400.23,842.07L403.24,842.15L406.25,842.23L409.26,842.31L412.26,842.39L415.27,842.48L418.28,842.57L421.28,842.67L424.29,842.80L427.29,842.96L430.29,843.16L433.29,843.40L436.28,843.70L439.27,844.07L442.24,844.50L445.21,844.99L448.17,845.55L451.11,846.17L454.03,846.85L456.94,847.61L459.83,848.45L462.69,849.38L465.51,850.41L468.30,851.54L471.06,852.72L473.82,853.93L476.58,855.10L479.37,856.23L482.17,857.33L484.99,858.39L487.80,859.44L490.62,860.49L493.44,861.55L496.25,862.62L499.05,863.72L501.84,864.84L504.63,865.98L507.40,867.14L510.18,868.30L512.95,869.47L515.71,870.66L518.46,871.87L521.20,873.13L523.90,874.45L526.56,875.84L529.18,877.32L531.73,878.90L534.23,880.57L536.65,882.34L539.02,884.20L541.32,886.13L543.57,888.12L545.77,890.17L547.93,892.26L550.05,894.40L552.13,896.57L554.17,898.78L556.17,901.02L558.13,903.30L560.05,905.62L561.93,907.97L563.78,910.34L565.61,912.73L567.40,915.14L569.18,917.57L570.94,920.01L572.68,922.46L574.39,924.94L576.06,927.44L577.69,929.97L579.29,932.51L580.87,935.08L582.44,937.64L584.01,940.21L585.59,942.76L587.21,945.30L588.86,947.81L590.57,950.29L592.32,952.73L594.13,955.13L595.97,957.51L597.82,959.89L599.66,962.27L601.46,964.67L603.22,967.11L604.91,969.60L606.54,972.12L608.12,974.68L609.66,977.26L611.18,979.86L612.68,982.47L614.19,985.07L615.71,987.67L617.25,990.25L618.82,992.82L620.43,995.36L622.07,997.88L623.73,1000.39L625.40,1002.89L627.07,1005.39L628.73,1007.90L630.37,1010.42L631.97,1012.97L633.54,1015.53L635.06,1018.13L636.55,1020.75L638.00,1023.38L639.45,1026.01L640.90,1028.65L642.37,1031.27L643.86,1033.89L645.37,1036.49L646.88,1039.09L648.41,1041.68L649.93,1044.27L651.47,1046.86L653.00,1049.45L654.53,1052.04L656.07,1054.63L657.60,1057.22L659.14,1059.80L660.67,1062.39L662.21,1064.97L663.75,1067.56L665.29,1070.14L666.83,1072.73L668.37,1075.31L669.91,1077.89L671.45,1080.48L673.00,1083.06L674.53,1085.65L676.07,1088.24L677.59,1090.83L679.12,1093.42L680.65,1096.01L682.19,1098.59L683.75,1101.17L685.32,1103.73L686.91,1106.29L688.53,1108.82L690.17,1111.34L691.83,1113.85L693.51,1116.35L695.21,1118.83L696.91,1121.31L698.63,1123.78L700.35,1126.25L702.07,1128.71L703.79,1131.18L705.51,1133.65L707.24,1136.11L708.98,1138.57L710.72,1141.02L712.48,1143.46L714.25,1145.89L716.03,1148.31L717.82,1150.73L719.63,1153.14L721.43,1155.54L723.25,1157.94L725.08,1160.33L726.93,1162.70L728.79,1165.06L730.68,1167.41L732.60,1169.72L734.55,1172.01L736.53,1174.27L738.55,1176.50L740.61,1178.70L742.69,1180.86L744.81,1183.00L746.95,1185.11L749.12,1187.20L751.31,1189.26L753.52,1191.30L755.75,1193.32L758.00,1195.31L760.29,1197.27L762.61,1199.18L764.98,1201.03L767.40,1202.80L769.89,1204.50L772.42,1206.11L775.01,1207.64L777.63,1209.11L780.28,1210.54L782.94,1211.94L785.62,1213.31L788.31,1214.65L791.02,1215.96L793.75,1217.22L796.50,1218.43L799.28,1219.58L802.08,1220.69L804.89,1221.75L807.72,1222.77L810.56,1223.77L813.41,1224.73L816.26,1225.67L819.13,1226.59L822.00,1227.48L824.88,1228.35L827.77,1229.19L830.67,1230.01L833.57,1230.79L836.48,1231.55L839.40,1232.26L842.33,1232.95L845.27,1233.61L848.21,1234.23L851.16,1234.84L854.11,1235.42L857.06,1235.98L860.02,1236.53L862.98,1237.06L865.94,1237.59L868.91,1238.11L871.87,1238.62L874.84,1239.12L877.80,1239.61L880.77,1240.08L883.75,1240.55L886.72,1240.99L889.70,1241.43L892.68,1241.85L895.66,1242.26L898.64,1242.65L901.62,1243.04L904.61,1243.43L907.59,1243.80L910.58,1244.17L913.56,1244.53L916.55,1244.89L919.54,1245.23L922.53,1245.56L925.52,1245.89L928.51,1246.21L931.50,1246.53L934.49,1246.85L937.49,1247.16L940.48,1247.47L943.47,1247.77L946.46,1248.08L949.46,1248.38L952.45,1248.69L955.44,1248.99L958.44,1249.30L961.43,1249.61L964.42,1249.92L967.41,1250.23L970.40,1250.54L971.90,1250.70" fill="none" stroke="#E69F00" stroke-width="3.00" stroke-linejoin="round" stroke-linecap="butt"/>
<path d="M178.90,807.70L181.17,809.67L183.45,811.64L185.72,813.60L188.01,815.56L190.32,817.48L192.67,819.35L195.06,821.18L197.48,822.96L199.93,824.70L202.42,826.38L204.95,827.99L207.55,829.50L210.21,830.88L212.94,832.12L215.73,833.23L218.56,834.23L221.42,835.16L224.29,836.06L227.15,836.97L230.02,837.89L232.88,838.80L235.76,839.67L238.65,840.48L241.57,841.20L244.50,841.85L247.46,842.41L250.42,842.91L253.39,843.35L256.37,843.74L259.36,844.09L262.35,844.40L265.35,844.66L268.34,844.89L271.34,845.08L274.35,845.24L277.35,845.36L280.36,845.45L283.36,845.52L286.37,845.58L289.37,845.62L292.38,845.66L295.39,845.69L298.40,845.72L301.40,845.76L304.41,845.80L307.42,845.84L310.42,845.89L313.43,845.95L316.43,846.00L319.44,846.05L322.45,846.09L325.45,846.14L328.46,846.18L331.47,846.22L334.47,846.25L337.48,846.29L340.49,846.32L343.49,846.36L346.50,846.39L349.51,846.43L352.51,846.46L355.52,846.50L358.53,846.53L361.53,846.57L364.54,846.61L367.55,846.65L370.55,846.70L373.56,846.74L376.57,846.79L379.57,846.84L382.58,846.90L385.59,846.96L388.59,847.03L391.60,847.10L394.61,847.19L397.61,847.28L400.62,847.37L403.62,847.48L406.63,847.58L409.63,847.69L412.64,847.80L415.64,847.92L418.65,848.04L421.65,848.18L424.65,848.35L427.65,848.54L430.65,848.76L433.64,849.03L436.63,849.34L439.62,849.72L442.59,850.16L445.55,850.66L448.51,851.22L451.45,851.83L454.39,852.48L457.32,853.14L460.25,853.81L463.18,854.47L466.12,855.14L469.04,855.82L471.96,856.54L474.86,857.32L477.74,858.18L480.61,859.09L483.45,860.06L486.28,861.07L489.10,862.12L491.91,863.19L494.71,864.28L497.51,865.39L500.30,866.51L503.09,867.64L505.87,868.78L508.65,869.91L511.44,871.05L514.22,872.19L516.99,873.35L519.75,874.54L522.50,875.77L525.22,877.05L527.90,878.40L530.55,879.82L533.16,881.31L535.72,882.88L538.25,884.51L540.73,886.21L543.16,887.97L545.55,889.79L547.89,891.68L550.18,893.62L552.42,895.63L554.60,897.69L556.73,899.81L558.81,901.98L560.85,904.19L562.84,906.44L564.80,908.72L566.73,911.03L568.64,913.35L570.53,915.69L572.39,918.05L574.22,920.44L576.01,922.85L577.75,925.30L579.46,927.77L581.15,930.26L582.83,932.76L584.52,935.24L586.24,937.71L588.00,940.14L589.82,942.53L591.71,944.87L593.66,947.16L595.65,949.41L597.67,951.63L599.69,953.86L601.69,956.11L603.65,958.39L605.56,960.71L607.43,963.06L609.26,965.44L611.08,967.84L612.87,970.26L614.64,972.68L616.41,975.12L618.16,977.56L619.91,980.01L621.64,982.47L623.37,984.93L625.08,987.40L626.78,989.88L628.46,992.37L630.13,994.88L631.78,997.39L633.40,999.92L635.01,1002.46L636.60,1005.01L638.17,1007.58L639.72,1010.15L641.27,1012.73L642.80,1015.32L644.33,1017.91L645.85,1020.50L647.37,1023.09L648.89,1025.69L650.39,1028.30L651.89,1030.90L653.38,1033.51L654.87,1036.13L656.36,1038.74L657.85,1041.35L659.35,1043.96L660.86,1046.56L662.37,1049.15L663.90,1051.74L665.44,1054.33L666.98,1056.91L668.53,1059.49L670.08,1062.06L671.64,1064.64L673.19,1067.21L674.74,1069.79L676.29,1072.37L677.83,1074.95L679.36,1077.53L680.89,1080.13L682.40,1082.73L683.89,1085.34L685.36,1087.96L686.80,1090.60L688.23,1093.24L689.65,1095.89L691.08,1098.54L692.52,1101.18L693.99,1103.80L695.50,1106.40L697.06,1108.97L698.67,1111.51L700.33,1114.01L702.04,1116.48L703.78,1118.93L705.55,1121.37L707.33,1123.79L709.11,1126.22L710.88,1128.64L712.65,1131.07L714.42,1133.51L716.20,1135.93L717.97,1138.36L719.74,1140.79L721.50,1143.23L723.23,1145.69L724.92,1148.18L726.55,1150.70L728.12,1153.26L729.64,1155.85L731.13,1158.46L732.65,1161.06L734.23,1163.61L735.89,1166.12L737.63,1168.57L739.43,1170.97L741.26,1173.36L743.10,1175.74L744.91,1178.13L746.68,1180.56L748.40,1183.03L750.10,1185.51L751.79,1187.99L753.52,1190.45L755.33,1192.85L757.23,1195.17L759.24,1197.40L761.35,1199.54L763.53,1201.60L765.77,1203.60L768.07,1205.54L770.42,1207.42L772.81,1209.23L775.24,1211.00L777.71,1212.71L780.21,1214.39L782.74,1216.01L785.29,1217.59L787.89,1219.11L790.51,1220.59L793.15,1222.01L795.82,1223.40L798.51,1224.74L801.21,1226.05L803.94,1227.33L806.67,1228.57L809.43,1229.78L812.20,1230.95L814.98,1232.08L817.78,1233.18L820.60,1234.23L823.43,1235.24L826.28,1236.20L829.15,1237.10L832.03,1237.95L834.93,1238.75L837.83,1239.53L840.74,1240.28L843.66,1241.01L846.58,1241.73L849.50,1242.44L852.43,1243.13L855.36,1243.80L858.29,1244.45L861.24,1245.07L864.18,1245.68L867.13,1246.25L870.09,1246.79L873.06,1247.28L876.03,1247.74L879.01,1248.14L881.99,1248.51L884.98,1248.84L887.97,1249.14L890.97,1249.41L893.96,1249.66L896.96,1249.91L899.96,1250.15L902.95,1250.39L905.95,1250.64L908.95,1250.89L911.94,1251.15L914.94,1251.40L917.93,1251.65L920.93,1251.89L923.93,1252.14L926.93,1252.37L929.92,1252.61L932.92,1252.84L935.92,1253.07L938.92,1253.30L941.92,1253.53L944.92,1253.75L947.91,1253.98L950.91,1254.20L953.91,1254.43L956.91,1254.66L959.91,1254.88L962.91,1255.11L965.90,1255.34L968.90,1255.57L971.90,1255.80" fill="none" stroke="#D55E00" stroke-width="3.00" stroke-linejoin="round" stroke-linecap="butt"/>
<path d="M178.80,806.60L181.47,807.98L184.14,809.36L186.81,810.74L189.48,812.12L192.15,813.50L194.83,814.88L197.50,816.26L200.17,817.63L202.85,819.01L205.52,820.39L208.18,821.79L210.83,823.21L213.47,824.65L216.11,826.09L218.75,827.53L221.40,828.94L224.08,830.31L226.78,831.63L229.51,832.87L232.28,834.03L235.10,835.08L237.95,836.03L240.83,836.88L243.73,837.64L246.66,838.31L249.61,838.91L252.56,839.44L255.53,839.92L258.51,840.36L261.49,840.76L264.47,841.14L267.45,841.48L270.44,841.79L273.44,842.07L276.44,842.30L279.44,842.50L282.44,842.67L285.44,842.81L288.44,842.94L291.45,843.04L294.45,843.14L297.46,843.23L300.47,843.31L303.47,843.39L306.48,843.48L309.48,843.56L312.49,843.64L315.49,843.71L318.50,843.77L321.51,843.83L324.51,843.87L327.52,843.91L330.53,843.94L333.53,843.96L336.54,843.99L339.55,844.00L342.55,844.02L345.56,844.03L348.57,844.04L351.57,844.05L354.58,844.06L357.59,844.07L360.59,844.07L363.60,844.08L366.61,844.09L369.61,844.09L372.62,844.10L375.63,844.11L378.63,844.13L381.64,844.15L384.65,844.17L387.65,844.19L390.66,844.22L393.67,844.26L396.67,844.31L399.68,844.37L402.68,844.44L405.69,844.52L408.70,844.61L411.70,844.71L414.70,844.82L417.71,844.94L420.71,845.06L423.72,845.19L426.72,845.33L429.72,845.46L432.73,845.60L435.73,845.73L438.74,845.85L441.74,845.95L444.74,846.08L447.73,846.30L450.71,846.65L453.67,847.15L456.61,847.76L459.54,848.44L462.46,849.17L465.36,849.94L468.26,850.73L471.16,851.53L474.05,852.35L476.95,853.17L479.84,853.99L482.73,854.82L485.62,855.65L488.51,856.49L491.39,857.34L494.27,858.21L497.14,859.11L500.00,860.03L502.85,860.99L505.68,861.99L508.50,863.03L511.31,864.12L514.09,865.24L516.87,866.39L519.64,867.57L522.38,868.79L525.11,870.06L527.81,871.38L530.47,872.78L533.08,874.26L535.64,875.83L538.13,877.51L540.53,879.30L542.85,881.21L545.09,883.21L547.25,885.29L549.35,887.44L551.41,889.63L553.44,891.85L555.46,894.08L557.48,896.30L559.51,898.52L561.53,900.74L563.55,902.98L565.54,905.23L567.52,907.49L569.49,909.76L571.46,912.03L573.43,914.30L575.42,916.56L577.41,918.81L579.43,921.04L581.47,923.25L583.53,925.44L585.60,927.61L587.69,929.78L589.79,931.94L591.89,934.08L594.00,936.23L596.11,938.37L598.22,940.51L600.35,942.63L602.48,944.75L604.62,946.86L606.76,948.98L608.88,951.11L610.98,953.26L613.05,955.44L615.09,957.65L617.10,959.89L619.08,962.15L621.03,964.43L622.96,966.74L624.84,969.08L626.69,971.45L628.49,973.86L630.24,976.30L631.94,978.78L633.60,981.29L635.23,983.81L636.85,986.35L638.46,988.89L640.08,991.42L641.71,993.95L643.37,996.45L645.05,998.95L646.74,1001.43L648.45,1003.91L650.15,1006.39L651.85,1008.87L653.53,1011.36L655.19,1013.87L656.83,1016.39L658.45,1018.92L660.04,1021.47L661.62,1024.03L663.19,1026.60L664.74,1029.17L666.27,1031.76L667.80,1034.34L669.32,1036.94L670.84,1039.54L672.35,1042.14L673.85,1044.74L675.35,1047.34L676.85,1049.95L678.33,1052.57L679.80,1055.19L681.26,1057.82L682.69,1060.47L684.08,1063.13L685.43,1065.81L686.72,1068.53L687.95,1071.27L689.13,1074.04L690.31,1076.80L691.53,1079.55L692.81,1082.27L694.15,1084.95L695.54,1087.62L696.97,1090.26L698.42,1092.90L699.89,1095.52L701.38,1098.14L702.87,1100.75L704.37,1103.35L705.88,1105.95L707.39,1108.55L708.92,1111.14L710.45,1113.72L712.00,1116.30L713.56,1118.87L715.12,1121.44L716.69,1124.01L718.25,1126.58L719.80,1129.15L721.34,1131.74L722.87,1134.33L724.38,1136.92L725.89,1139.53L727.39,1142.13L728.89,1144.74L730.40,1147.34L731.92,1149.93L733.46,1152.52L735.02,1155.08L736.61,1157.63L738.22,1160.17L739.85,1162.70L741.49,1165.22L743.15,1167.73L744.84,1170.21L746.56,1172.68L748.33,1175.11L750.16,1177.49L752.05,1179.83L754.02,1182.09L756.06,1184.30L758.16,1186.45L760.27,1188.59L762.39,1190.72L764.50,1192.86L766.61,1195.00L768.73,1197.13L770.88,1199.24L773.06,1201.31L775.28,1203.34L777.53,1205.33L779.82,1207.27L782.16,1209.16L784.53,1211.01L786.94,1212.81L789.38,1214.56L791.85,1216.28L794.35,1217.94L796.88,1219.55L799.46,1221.10L802.07,1222.59L804.72,1224.00L807.41,1225.35L810.13,1226.61L812.89,1227.80L815.69,1228.89L818.53,1229.87L821.40,1230.75L824.30,1231.54L827.22,1232.24L830.16,1232.89L833.10,1233.50L836.05,1234.09L839.00,1234.66L841.96,1235.20L844.92,1235.72L847.88,1236.23L850.85,1236.72L853.82,1237.20L856.79,1237.66L859.76,1238.12L862.73,1238.58L865.71,1239.03L868.68,1239.47L871.65,1239.91L874.63,1240.36L877.60,1240.80L880.58,1241.24L883.55,1241.68L886.53,1242.10L889.50,1242.52L892.48,1242.93L895.46,1243.32L898.45,1243.70L901.43,1244.05L904.42,1244.39L907.41,1244.71L910.40,1245.01L913.40,1245.29L916.39,1245.55L919.39,1245.79L922.39,1246.02L925.38,1246.24L928.38,1246.44L931.38,1246.64L934.38,1246.84L937.39,1247.02L940.39,1247.20L943.39,1247.38L946.39,1247.56L949.39,1247.73L952.39,1247.91L955.39,1248.08L958.40,1248.26L961.40,1248.44L964.40,1248.62L967.40,1248.81L970.40,1249.00L971.90,1249.10" fill="none" stroke="#56B4E9" stroke-width="3.00" stroke-linejoin="round" stroke-linecap="butt"/>
<path d="M178.80,803.60L181.54,804.84L184.27,806.08L187.01,807.32L189.75,808.56L192.48,809.80L195.22,811.05L197.95,812.31L200.67,813.58L203.38,814.86L206.08,816.18L208.76,817.54L211.42,818.94L214.06,820.36L216.70,821.81L219.34,823.24L221.99,824.66L224.66,826.04L227.36,827.36L230.09,828.60L232.86,829.74L235.68,830.78L238.53,831.72L241.41,832.55L244.32,833.30L247.25,833.96L250.19,834.55L253.15,835.07L256.12,835.54L259.09,835.96L262.07,836.35L265.05,836.70L268.04,837.02L271.03,837.29L274.03,837.52L277.03,837.70L280.03,837.84L283.03,837.95L286.03,838.04L289.04,838.11L292.04,838.17L295.05,838.22L298.05,838.26L301.05,838.31L304.06,838.36L307.06,838.42L310.07,838.48L313.07,838.55L316.07,838.62L319.08,838.68L322.08,838.74L325.09,838.80L328.09,838.85L331.10,838.90L334.10,838.94L337.10,838.99L340.11,839.03L343.11,839.07L346.12,839.11L349.12,839.14L352.13,839.18L355.13,839.22L358.13,839.25L361.14,839.29L364.14,839.32L367.15,839.35L370.15,839.39L373.16,839.42L376.16,839.46L379.17,839.49L382.17,839.53L385.17,839.56L388.18,839.60L391.18,839.64L394.19,839.69L397.19,839.73L400.20,839.78L403.20,839.83L406.20,839.87L409.21,839.92L412.21,839.96L415.22,840.01L418.22,840.05L421.23,840.10L424.23,840.15L427.23,840.21L430.24,840.28L433.24,840.37L436.24,840.49L439.24,840.65L442.24,840.86L445.23,841.12L448.22,841.41L451.21,841.73L454.20,842.04L457.18,842.36L460.17,842.69L463.16,843.03L466.14,843.39L469.12,843.78L472.09,844.20L475.06,844.65L478.03,845.15L480.98,845.69L483.93,846.26L486.87,846.87L489.81,847.51L492.74,848.18L495.66,848.87L498.57,849.60L501.48,850.35L504.39,851.12L507.29,851.89L510.19,852.67L513.09,853.46L515.99,854.27L518.87,855.11L521.73,856.02L524.57,857.00L527.36,858.09L530.11,859.29L532.80,860.61L535.43,862.06L537.99,863.63L540.48,865.29L542.92,867.04L545.30,868.88L547.62,870.78L549.89,872.74L552.11,874.76L554.27,876.85L556.36,879.00L558.39,881.22L560.35,883.49L562.28,885.80L564.18,888.12L566.08,890.45L567.98,892.77L569.91,895.08L571.85,897.38L573.80,899.66L575.75,901.95L577.70,904.23L579.65,906.51L581.61,908.79L583.57,911.07L585.54,913.34L587.50,915.61L589.47,917.89L591.43,920.16L593.39,922.44L595.36,924.71L597.33,926.98L599.31,929.24L601.30,931.49L603.32,933.71L605.36,935.92L607.42,938.10L609.52,940.25L611.66,942.36L613.84,944.43L616.04,946.47L618.27,948.48L620.52,950.48L622.77,952.47L625.01,954.47L627.24,956.48L629.44,958.53L631.61,960.60L633.75,962.71L635.85,964.86L637.93,967.03L639.99,969.22L642.03,971.43L644.04,973.65L646.03,975.90L648.00,978.17L649.95,980.46L651.88,982.76L653.78,985.09L655.66,987.44L657.50,989.80L659.32,992.19L661.12,994.60L662.89,997.03L664.65,999.47L666.38,1001.92L668.09,1004.39L669.79,1006.87L671.46,1009.37L673.11,1011.88L674.74,1014.40L676.34,1016.95L677.91,1019.50L679.45,1022.08L680.96,1024.68L682.43,1027.30L683.87,1029.94L685.31,1032.58L686.75,1035.21L688.22,1037.83L689.72,1040.44L691.25,1043.02L692.79,1045.60L694.34,1048.18L695.85,1050.77L697.32,1053.39L698.74,1056.04L700.12,1058.70L701.47,1061.39L702.78,1064.09L704.07,1066.81L705.34,1069.53L706.59,1072.26L707.83,1075.00L709.05,1077.74L710.26,1080.49L711.45,1083.25L712.62,1086.02L713.77,1088.80L714.90,1091.58L716.02,1094.37L717.13,1097.16L718.24,1099.95L719.34,1102.75L720.44,1105.54L721.55,1108.33L722.67,1111.12L723.80,1113.91L724.93,1116.69L726.06,1119.47L727.20,1122.26L728.34,1125.04L729.48,1127.82L730.62,1130.60L731.75,1133.38L732.89,1136.16L734.02,1138.94L735.15,1141.73L736.28,1144.51L737.39,1147.30L738.50,1150.10L739.61,1152.89L740.73,1155.67L741.88,1158.45L743.04,1161.22L744.23,1163.98L745.45,1166.73L746.70,1169.46L748.00,1172.17L749.35,1174.85L750.74,1177.51L752.18,1180.15L753.65,1182.77L755.13,1185.39L756.61,1188.00L758.09,1190.62L759.57,1193.23L761.06,1195.84L762.57,1198.44L764.11,1201.01L765.69,1203.57L767.31,1206.10L768.97,1208.60L770.68,1211.07L772.46,1213.49L774.31,1215.85L776.22,1218.17L778.19,1220.43L780.23,1222.64L782.33,1224.78L784.52,1226.84L786.79,1228.80L789.13,1230.67L791.55,1232.44L794.04,1234.12L796.59,1235.69L799.20,1237.18L801.83,1238.62L804.46,1240.07L807.09,1241.54L809.72,1242.97L812.40,1244.32L815.13,1245.56L817.90,1246.72L820.70,1247.82L823.51,1248.87L826.34,1249.89L829.18,1250.87L832.03,1251.82L834.89,1252.74L837.76,1253.63L840.63,1254.50L843.52,1255.35L846.41,1256.15L849.32,1256.91L852.23,1257.62L855.17,1258.27L858.11,1258.86L861.07,1259.38L864.04,1259.82L867.02,1260.20L870.01,1260.53L873.00,1260.80L875.99,1261.04L878.99,1261.26L881.99,1261.45L884.99,1261.64L887.98,1261.82L890.98,1262.01L893.98,1262.20L896.98,1262.40L899.98,1262.61L902.97,1262.82L905.97,1263.02L908.97,1263.22L911.97,1263.41L914.97,1263.60L917.97,1263.79L920.97,1263.98L923.96,1264.17L926.96,1264.37L929.96,1264.57L932.96,1264.78L935.95,1265.00L938.95,1265.22L941.95,1265.45L944.94,1265.67L947.94,1265.91L950.93,1266.14L953.93,1266.38L956.92,1266.62L959.92,1266.85L962.91,1267.09L965.91,1267.33L968.90,1267.56L971.90,1267.80" fill="none" stroke="#0072B2" stroke-width="3.00" stroke-linejoin="round" stroke-linecap="butt"/>
<path d="M183.30,798.30L185.89,799.82L188.48,801.35L191.07,802.88L193.66,804.40L196.26,805.92L198.85,807.44L201.45,808.95L204.06,810.45L206.66,811.96L209.25,813.48L211.84,815.01L214.43,816.54L217.01,818.07L219.61,819.59L222.22,821.08L224.85,822.53L227.51,823.94L230.20,825.28L232.92,826.54L235.68,827.73L238.47,828.84L241.29,829.88L244.14,830.85L247.00,831.76L249.89,832.60L252.79,833.37L255.71,834.08L258.65,834.73L261.59,835.33L264.55,835.87L267.52,836.35L270.49,836.77L273.48,837.13L276.47,837.44L279.46,837.70L282.46,837.92L285.46,838.11L288.46,838.27L291.46,838.41L294.47,838.53L297.47,838.65L300.48,838.75L303.48,838.85L306.49,838.95L309.49,839.05L312.50,839.15L315.50,839.23L318.51,839.30L321.51,839.36L324.52,839.40L327.53,839.43L330.53,839.45L333.54,839.46L336.55,839.47L339.55,839.47L342.56,839.47L345.57,839.47L348.57,839.47L351.58,839.48L354.59,839.49L357.59,839.51L360.60,839.52L363.61,839.52L366.61,839.53L369.62,839.52L372.63,839.52L375.63,839.52L378.64,839.52L381.65,839.52L384.65,839.53L387.66,839.55L390.66,839.58L393.67,839.62L396.68,839.68L399.68,839.76L402.69,839.86L405.69,839.97L408.70,840.09L411.70,840.23L414.70,840.38L417.70,840.54L420.71,840.71L423.71,840.89L426.71,841.09L429.71,841.30L432.70,841.53L435.70,841.78L438.69,842.05L441.68,842.36L444.65,842.75L447.59,843.31L450.47,844.10L453.28,845.12L456.04,846.30L458.74,847.61L461.42,848.98L464.07,850.39L466.72,851.81L469.37,853.24L472.03,854.64L474.70,856.01L477.40,857.34L480.11,858.63L482.85,859.87L485.60,861.09L488.35,862.30L491.11,863.50L493.86,864.71L496.61,865.93L499.34,867.18L502.06,868.45L504.77,869.76L507.47,871.08L510.17,872.42L512.85,873.76L515.53,875.13L518.20,876.52L520.85,877.94L523.47,879.40L526.07,880.92L528.63,882.49L531.14,884.14L533.61,885.85L536.03,887.63L538.40,889.47L540.73,891.37L543.01,893.33L545.25,895.34L547.44,897.39L549.59,899.49L551.70,901.64L553.76,903.82L555.77,906.05L557.74,908.32L559.67,910.63L561.56,912.97L563.41,915.33L565.24,917.72L567.04,920.13L568.82,922.55L570.58,924.99L572.33,927.44L574.05,929.90L575.75,932.38L577.43,934.87L579.08,937.38L580.71,939.91L582.31,942.46L583.89,945.01L585.45,947.58L586.99,950.17L588.51,952.76L590.02,955.36L591.50,957.98L592.96,960.60L594.41,963.24L595.83,965.89L597.23,968.55L598.61,971.22L599.97,973.90L601.30,976.60L602.60,979.31L603.87,982.03L605.11,984.77L606.30,987.53L607.46,990.31L608.58,993.09L609.68,995.89L610.77,998.70L611.85,1001.50L612.93,1004.31L614.03,1007.11L615.14,1009.90L616.28,1012.68L617.43,1015.46L618.58,1018.24L619.74,1021.01L620.90,1023.78L622.08,1026.55L623.27,1029.31L624.47,1032.07L625.70,1034.81L626.95,1037.55L628.23,1040.26L629.55,1042.96L630.91,1045.65L632.30,1048.31L633.71,1050.97L635.13,1053.62L636.55,1056.27L637.94,1058.93L639.31,1061.61L640.62,1064.31L641.89,1067.04L643.12,1069.78L644.33,1072.53L645.55,1075.28L646.79,1078.02L648.08,1080.73L649.42,1083.42L650.81,1086.09L652.25,1088.73L653.72,1091.35L655.22,1093.96L656.75,1096.54L658.31,1099.12L659.89,1101.67L661.51,1104.20L663.15,1106.72L664.83,1109.21L666.55,1111.68L668.30,1114.13L670.08,1116.55L671.89,1118.94L673.74,1121.32L675.61,1123.67L677.51,1126.00L679.43,1128.32L681.36,1130.61L683.32,1132.90L685.30,1135.16L687.30,1137.40L689.33,1139.62L691.38,1141.82L693.46,1143.99L695.57,1146.13L697.72,1148.23L699.91,1150.29L702.14,1152.30L704.41,1154.28L706.70,1156.22L709.01,1158.14L711.33,1160.06L713.65,1161.97L715.96,1163.89L718.26,1165.83L720.55,1167.78L722.84,1169.73L725.13,1171.68L727.43,1173.61L729.75,1175.52L732.10,1177.40L734.48,1179.24L736.89,1181.04L739.33,1182.79L741.79,1184.51L744.29,1186.18L746.81,1187.82L749.36,1189.41L751.94,1190.96L754.54,1192.46L757.17,1193.92L759.82,1195.33L762.49,1196.71L765.17,1198.07L767.86,1199.42L770.56,1200.74L773.27,1202.05L775.99,1203.33L778.72,1204.59L781.46,1205.83L784.21,1207.03L786.98,1208.21L789.76,1209.35L792.55,1210.47L795.35,1211.57L798.16,1212.63L800.98,1213.67L803.81,1214.68L806.65,1215.66L809.50,1216.62L812.36,1217.56L815.22,1218.49L818.08,1219.41L820.95,1220.32L823.82,1221.22L826.69,1222.11L829.57,1222.98L832.45,1223.84L835.33,1224.69L838.21,1225.54L841.10,1226.38L843.99,1227.22L846.88,1228.04L849.78,1228.84L852.68,1229.61L855.60,1230.35L858.52,1231.05L861.46,1231.70L864.40,1232.32L867.35,1232.90L870.30,1233.45L873.26,1233.97L876.23,1234.47L879.20,1234.95L882.17,1235.42L885.14,1235.87L888.11,1236.32L891.09,1236.75L894.06,1237.18L897.04,1237.60L900.02,1238.02L903.00,1238.43L905.97,1238.84L908.96,1239.23L911.94,1239.61L914.92,1239.98L917.91,1240.34L920.89,1240.68L923.88,1241.00L926.87,1241.30L929.87,1241.58L932.86,1241.84L935.86,1242.07L938.86,1242.28L941.86,1242.46L944.86,1242.62L947.87,1242.76L950.87,1242.89L953.87,1243.01L956.88,1243.12L959.88,1243.23L962.89,1243.34L965.89,1243.45L968.90,1243.57L971.90,1243.70" fill="none" stroke="#009E73" stroke-width="3.00" stroke-linejoin="round" stroke-linecap="butt"/>
<line x1="1184.9" y1="797.3" x2="1184.9" y2="1367.2" stroke="#000" stroke-width="2.30" stroke-linecap="butt"/>
<line x1="1171.4" y1="1366.1" x2="1977.7" y2="1366.1" stroke="#000" stroke-width="2.30" stroke-linecap="butt"/>
<text transform="translate(1159.5,1376.9) scale(1,1.060)" font-size="29.6" text-anchor="end">0</text>
<line x1="1177.7" y1="1309.2" x2="1184.9" y2="1309.2" stroke="#000" stroke-width="2.30" stroke-linecap="butt"/>
<line x1="1171.4" y1="1252.3" x2="1184.9" y2="1252.3" stroke="#000" stroke-width="2.30" stroke-linecap="butt"/>
<text transform="translate(1159.5,1263.1) scale(1,1.060)" font-size="29.6" text-anchor="end">20</text>
<line x1="1177.7" y1="1195.5" x2="1184.9" y2="1195.5" stroke="#000" stroke-width="2.30" stroke-linecap="butt"/>
<line x1="1171.4" y1="1138.6" x2="1184.9" y2="1138.6" stroke="#000" stroke-width="2.30" stroke-linecap="butt"/>
<text transform="translate(1159.5,1149.4) scale(1,1.060)" font-size="29.6" text-anchor="end">40</text>
<line x1="1177.7" y1="1081.7" x2="1184.9" y2="1081.7" stroke="#000" stroke-width="2.30" stroke-linecap="butt"/>
<line x1="1171.4" y1="1024.8" x2="1184.9" y2="1024.8" stroke="#000" stroke-width="2.30" stroke-linecap="butt"/>
<text transform="translate(1159.5,1035.6) scale(1,1.060)" font-size="29.6" text-anchor="end">60</text>
<line x1="1177.7" y1="967.9" x2="1184.9" y2="967.9" stroke="#000" stroke-width="2.30" stroke-linecap="butt"/>
<line x1="1171.4" y1="911.1" x2="1184.9" y2="911.1" stroke="#000" stroke-width="2.30" stroke-linecap="butt"/>
<text transform="translate(1159.5,921.9) scale(1,1.060)" font-size="29.6" text-anchor="end">80</text>
<line x1="1177.7" y1="854.2" x2="1184.9" y2="854.2" stroke="#000" stroke-width="2.30" stroke-linecap="butt"/>
<line x1="1171.4" y1="797.3" x2="1184.9" y2="797.3" stroke="#000" stroke-width="2.30" stroke-linecap="butt"/>
<text transform="translate(1159.5,808.1) scale(1,1.060)" font-size="29.6" text-anchor="end">100</text>
<line x1="1199.8" y1="1366.1" x2="1199.8" y2="1372.9" stroke="#000" stroke-width="2.30" stroke-linecap="butt"/>
<line x1="1277.5" y1="1366.1" x2="1277.5" y2="1378.7" stroke="#000" stroke-width="2.30" stroke-linecap="butt"/>
<text transform="translate(1277.5,1413.3) scale(1,1.060)" font-size="29.6" text-anchor="middle">100</text>
<line x1="1355.2" y1="1366.1" x2="1355.2" y2="1372.9" stroke="#000" stroke-width="2.30" stroke-linecap="butt"/>
<line x1="1432.8" y1="1366.1" x2="1432.8" y2="1378.7" stroke="#000" stroke-width="2.30" stroke-linecap="butt"/>
<text transform="translate(1432.8,1413.3) scale(1,1.060)" font-size="29.6" text-anchor="middle">200</text>
<line x1="1510.5" y1="1366.1" x2="1510.5" y2="1372.9" stroke="#000" stroke-width="2.30" stroke-linecap="butt"/>
<line x1="1588.2" y1="1366.1" x2="1588.2" y2="1378.7" stroke="#000" stroke-width="2.30" stroke-linecap="butt"/>
<text transform="translate(1588.2,1413.3) scale(1,1.060)" font-size="29.6" text-anchor="middle">300</text>
<line x1="1665.9" y1="1366.1" x2="1665.9" y2="1372.9" stroke="#000" stroke-width="2.30" stroke-linecap="butt"/>
<line x1="1743.5" y1="1366.1" x2="1743.5" y2="1378.7" stroke="#000" stroke-width="2.30" stroke-linecap="butt"/>
<text transform="translate(1743.5,1413.3) scale(1,1.060)" font-size="29.6" text-anchor="middle">400</text>
<line x1="1821.2" y1="1366.1" x2="1821.2" y2="1372.9" stroke="#000" stroke-width="2.30" stroke-linecap="butt"/>
<line x1="1898.9" y1="1366.1" x2="1898.9" y2="1378.7" stroke="#000" stroke-width="2.30" stroke-linecap="butt"/>
<text transform="translate(1898.9,1413.3) scale(1,1.060)" font-size="29.6" text-anchor="middle">500</text>
<line x1="1976.6" y1="1366.1" x2="1976.6" y2="1372.9" stroke="#000" stroke-width="2.30" stroke-linecap="butt"/>
<text x="1550.9" y="1455.2" font-size="29.0" text-anchor="middle">Temperature (°C)</text>
<text transform="translate(1085.1,1099.1) rotate(-90)" font-size="29.0" text-anchor="middle">Weight %</text>
<line x1="1209.7" y1="1147.2" x2="1278.0" y2="1147.2" stroke="#E69F00" stroke-width="2.60" stroke-linecap="round"/>
<text x="1291.3" y="1155.6" font-size="24.9" text-anchor="start">BSA-pDMAEMA, <tspan font-style="italic">M</tspan><tspan font-size="17.2" dy="8.2">n</tspan><tspan dy="-8.2">/</tspan><tspan font-style="italic">I</tspan><tspan font-size="17.2" dy="8.2">o</tspan><tspan dy="-8.2"> = 500/1</tspan></text>
<line x1="1209.7" y1="1194.5" x2="1278.0" y2="1194.5" stroke="#D55E00" stroke-width="2.60" stroke-linecap="round"/>
<text x="1291.3" y="1202.9" font-size="24.9" text-anchor="start">BSA-pDMAEMA, <tspan font-style="italic">M</tspan><tspan font-size="17.2" dy="8.2">n</tspan><tspan dy="-8.2">/</tspan><tspan font-style="italic">I</tspan><tspan font-size="17.2" dy="8.2">o</tspan><tspan dy="-8.2"> = 1000/1</tspan></text>
<line x1="1209.7" y1="1242.3" x2="1278.0" y2="1242.3" stroke="#56B4E9" stroke-width="2.60" stroke-linecap="round"/>
<text x="1291.3" y="1250.7" font-size="24.9" text-anchor="start">BSA-pDMAEMA, <tspan font-style="italic">M</tspan><tspan font-size="17.2" dy="8.2">n</tspan><tspan dy="-8.2">/</tspan><tspan font-style="italic">I</tspan><tspan font-size="17.2" dy="8.2">o</tspan><tspan dy="-8.2"> = 1500/1</tspan></text>
<line x1="1209.7" y1="1289.6" x2="1278.0" y2="1289.6" stroke="#0072B2" stroke-width="2.60" stroke-linecap="round"/>
<text x="1291.3" y="1298.0" font-size="24.9" text-anchor="start">BSA-pDMAEMA, <tspan font-style="italic">M</tspan><tspan font-size="17.2" dy="8.2">n</tspan><tspan dy="-8.2">/</tspan><tspan font-style="italic">I</tspan><tspan font-size="17.2" dy="8.2">o</tspan><tspan dy="-8.2"> = 2000/1</tspan></text>
<line x1="1209.7" y1="1336.9" x2="1278.0" y2="1336.9" stroke="#009E73" stroke-width="2.60" stroke-linecap="round"/>
<text x="1291.3" y="1345.4" font-size="24.9" text-anchor="start">BSA</text>
<path d="M1185.30,832.30L1187.93,833.75L1190.56,835.20L1193.19,836.65L1195.85,838.06L1198.53,839.39L1201.27,840.63L1204.05,841.75L1206.87,842.78L1209.73,843.71L1212.61,844.56L1215.51,845.33L1218.43,846.02L1221.37,846.63L1224.33,847.17L1227.29,847.64L1230.27,848.05L1233.25,848.40L1236.24,848.70L1239.23,848.95L1242.23,849.18L1245.23,849.37L1248.23,849.54L1251.23,849.69L1254.23,849.82L1257.23,849.94L1260.24,850.05L1263.24,850.16L1266.24,850.26L1269.25,850.35L1272.25,850.43L1275.25,850.49L1278.26,850.54L1281.26,850.56L1284.27,850.56L1287.27,850.55L1290.28,850.52L1293.28,850.49L1296.29,850.46L1299.29,850.42L1302.30,850.39L1305.30,850.37L1308.30,850.36L1311.31,850.37L1314.31,850.39L1317.32,850.41L1320.32,850.44L1323.33,850.45L1326.33,850.45L1329.34,850.46L1332.34,850.46L1335.35,850.47L1338.35,850.50L1341.36,850.55L1344.36,850.63L1347.36,850.75L1350.36,850.91L1353.36,851.12L1356.35,851.39L1359.34,851.72L1362.31,852.11L1365.29,852.55L1368.25,853.04L1371.21,853.57L1374.16,854.14L1377.10,854.75L1380.03,855.41L1382.95,856.11L1385.86,856.87L1388.75,857.69L1391.62,858.57L1394.46,859.53L1397.27,860.59L1400.03,861.76L1402.73,863.06L1405.36,864.50L1407.91,866.08L1410.37,867.78L1412.76,869.59L1415.09,871.49L1417.36,873.45L1419.57,875.49L1421.72,877.59L1423.80,879.75L1425.84,881.96L1427.83,884.20L1429.80,886.48L1431.73,888.78L1433.63,891.10L1435.49,893.46L1437.30,895.86L1439.07,898.28L1440.83,900.72L1442.59,903.16L1444.36,905.59L1446.16,907.99L1448.02,910.35L1449.93,912.67L1451.88,914.95L1453.87,917.20L1455.90,919.41L1457.96,921.60L1460.05,923.76L1462.16,925.89L1464.30,928.00L1466.47,930.09L1468.66,932.14L1470.88,934.17L1473.13,936.16L1475.40,938.13L1477.69,940.07L1480.01,941.98L1482.36,943.86L1484.72,945.71L1487.11,947.53L1489.52,949.32L1491.96,951.09L1494.40,952.83L1496.87,954.55L1499.34,956.25L1501.83,957.93L1504.34,959.58L1506.89,961.17L1509.48,962.70L1512.11,964.15L1514.77,965.53L1517.47,966.86L1520.16,968.18L1522.85,969.52L1525.52,970.91L1528.15,972.35L1530.75,973.85L1533.33,975.39L1535.90,976.96L1538.46,978.53L1541.02,980.10L1543.59,981.66L1546.16,983.21L1548.74,984.75L1551.32,986.29L1553.90,987.83L1556.48,989.37L1559.07,990.90L1561.65,992.43L1564.25,993.94L1566.84,995.46L1569.42,997.01L1571.97,998.59L1574.48,1000.23L1576.95,1001.94L1579.38,1003.71L1581.77,1005.54L1584.12,1007.40L1586.46,1009.29L1588.77,1011.21L1591.07,1013.15L1593.35,1015.10L1595.62,1017.07L1597.87,1019.06L1600.10,1021.07L1602.32,1023.10L1604.53,1025.13L1606.74,1027.17L1608.95,1029.21L1611.15,1031.25L1613.36,1033.29L1615.55,1035.34L1617.74,1037.40L1619.91,1039.48L1622.05,1041.59L1624.16,1043.72L1626.23,1045.90L1628.26,1048.12L1630.25,1050.37L1632.22,1052.63L1634.21,1054.89L1636.22,1057.12L1638.29,1059.30L1640.39,1061.44L1642.51,1063.57L1644.61,1065.72L1646.70,1067.88L1648.78,1070.05L1650.87,1072.21L1652.97,1074.35L1655.10,1076.48L1657.25,1078.57L1659.44,1080.63L1661.68,1082.63L1663.96,1084.58L1666.29,1086.48L1668.66,1088.33L1671.05,1090.14L1673.47,1091.93L1675.90,1093.69L1678.33,1095.45L1680.77,1097.21L1683.20,1098.97L1685.62,1100.76L1688.01,1102.58L1690.37,1104.44L1692.69,1106.35L1694.99,1108.28L1697.27,1110.23L1699.56,1112.19L1701.85,1114.13L1704.16,1116.05L1706.47,1117.97L1708.78,1119.89L1711.07,1121.84L1713.34,1123.81L1715.57,1125.82L1717.76,1127.87L1719.90,1129.97L1722.02,1132.11L1724.10,1134.28L1726.15,1136.47L1728.18,1138.69L1730.17,1140.93L1732.14,1143.21L1734.06,1145.52L1735.94,1147.86L1737.77,1150.24L1739.54,1152.67L1741.25,1155.13L1742.88,1157.65L1744.43,1160.22L1745.91,1162.84L1747.32,1165.49L1748.68,1168.17L1750.00,1170.87L1751.30,1173.58L1752.60,1176.29L1753.91,1178.99L1755.24,1181.69L1756.60,1184.36L1758.01,1187.02L1759.44,1189.66L1760.90,1192.28L1762.37,1194.91L1763.84,1197.52L1765.33,1200.13L1766.83,1202.74L1768.35,1205.33L1769.89,1207.91L1771.45,1210.48L1773.05,1213.02L1774.68,1215.54L1776.35,1218.04L1778.06,1220.51L1779.82,1222.95L1781.61,1225.36L1783.44,1227.74L1785.30,1230.10L1787.20,1232.43L1789.14,1234.72L1791.11,1236.99L1793.12,1239.22L1795.17,1241.42L1797.25,1243.59L1799.35,1245.73L1801.49,1247.84L1803.66,1249.92L1805.86,1251.96L1808.12,1253.94L1810.44,1255.85L1812.82,1257.68L1815.26,1259.42L1817.78,1261.05L1820.36,1262.59L1822.99,1264.02L1825.67,1265.37L1828.39,1266.64L1831.14,1267.85L1833.92,1268.99L1836.72,1270.08L1839.54,1271.13L1842.37,1272.13L1845.22,1273.07L1848.09,1273.95L1850.98,1274.76L1853.89,1275.52L1856.81,1276.23L1859.74,1276.90L1862.67,1277.55L1865.61,1278.19L1868.54,1278.83L1871.48,1279.48L1874.41,1280.13L1877.35,1280.77L1880.28,1281.41L1883.23,1282.01L1886.18,1282.59L1889.13,1283.13L1892.09,1283.63L1895.06,1284.09L1898.04,1284.51L1901.02,1284.88L1904.00,1285.22L1906.99,1285.52L1909.99,1285.78L1912.98,1286.03L1915.98,1286.25L1918.98,1286.45L1921.97,1286.63L1924.97,1286.81L1927.97,1286.97L1930.98,1287.12L1933.98,1287.27L1936.98,1287.41L1939.98,1287.54L1942.98,1287.67L1945.98,1287.80L1948.99,1287.93L1951.99,1288.06L1954.99,1288.18L1957.99,1288.32L1960.99,1288.45L1964.00,1288.59L1967.00,1288.73L1970.00,1288.88L1973.00,1289.04L1976.00,1289.20" fill="none" stroke="#E69F00" stroke-width="3.00" stroke-linejoin="round" stroke-linecap="butt"/>
<path d="M1185.30,817.90L1187.66,819.76L1190.01,821.63L1192.36,823.50L1194.73,825.35L1197.15,827.13L1199.62,828.82L1202.17,830.41L1204.78,831.89L1207.44,833.27L1210.15,834.57L1212.90,835.76L1215.70,836.86L1218.53,837.84L1221.41,838.70L1224.31,839.46L1227.24,840.09L1230.20,840.61L1233.17,841.03L1236.16,841.36L1239.15,841.62L1242.14,841.83L1245.14,842.00L1248.15,842.13L1251.15,842.24L1254.15,842.33L1257.16,842.41L1260.16,842.49L1263.16,842.57L1266.17,842.66L1269.17,842.75L1272.17,842.86L1275.18,842.96L1278.18,843.05L1281.18,843.13L1284.19,843.19L1287.19,843.25L1290.20,843.29L1293.20,843.33L1296.21,843.37L1299.21,843.40L1302.22,843.43L1305.22,843.46L1308.23,843.49L1311.23,843.53L1314.24,843.57L1317.24,843.60L1320.24,843.62L1323.25,843.62L1326.25,843.60L1329.26,843.57L1332.26,843.54L1335.27,843.51L1338.27,843.49L1341.28,843.49L1344.28,843.51L1347.29,843.56L1350.29,843.66L1353.29,843.80L1356.29,844.00L1359.28,844.26L1362.27,844.58L1365.25,844.95L1368.22,845.37L1371.19,845.83L1374.15,846.33L1377.11,846.88L1380.06,847.46L1382.99,848.08L1385.92,848.75L1388.84,849.47L1391.74,850.25L1394.62,851.09L1397.48,852.01L1400.30,853.03L1403.08,854.16L1405.80,855.42L1408.47,856.80L1411.08,858.28L1413.63,859.86L1416.15,861.50L1418.62,863.20L1421.06,864.96L1423.45,866.78L1425.79,868.65L1428.10,870.58L1430.36,872.55L1432.58,874.57L1434.77,876.63L1436.91,878.74L1439.02,880.88L1441.09,883.06L1443.12,885.27L1445.12,887.51L1447.09,889.78L1449.03,892.07L1450.93,894.40L1452.79,896.76L1454.61,899.16L1456.40,901.57L1458.17,903.99L1459.95,906.42L1461.73,908.83L1463.54,911.24L1465.37,913.61L1467.24,915.97L1469.14,918.30L1471.05,920.61L1472.98,922.91L1474.92,925.21L1476.86,927.51L1478.79,929.81L1480.70,932.13L1482.59,934.46L1484.46,936.81L1486.31,939.18L1488.15,941.56L1489.98,943.94L1491.82,946.32L1493.68,948.68L1495.56,951.02L1497.49,953.32L1499.48,955.57L1501.53,957.76L1503.63,959.92L1505.74,962.06L1507.83,964.21L1509.87,966.41L1511.85,968.67L1513.78,970.97L1515.70,973.28L1517.65,975.56L1519.65,977.81L1521.70,980.00L1523.78,982.16L1525.92,984.28L1528.10,986.34L1530.34,988.34L1532.65,990.26L1535.02,992.10L1537.44,993.88L1539.90,995.60L1542.39,997.27L1544.92,998.90L1547.47,1000.48L1550.05,1002.03L1552.64,1003.56L1555.23,1005.07L1557.82,1006.59L1560.41,1008.12L1563.00,1009.65L1565.58,1011.18L1568.16,1012.73L1570.73,1014.28L1573.28,1015.87L1575.82,1017.48L1578.33,1019.13L1580.82,1020.80L1583.30,1022.50L1585.76,1024.23L1588.21,1025.97L1590.63,1027.75L1593.03,1029.56L1595.40,1031.40L1597.75,1033.28L1600.08,1035.17L1602.42,1037.06L1604.76,1038.94L1607.13,1040.79L1609.52,1042.61L1611.94,1044.39L1614.38,1046.14L1616.84,1047.87L1619.31,1049.58L1621.79,1051.28L1624.28,1052.96L1626.77,1054.64L1629.28,1056.30L1631.79,1057.94L1634.31,1059.58L1636.83,1061.21L1639.36,1062.85L1641.88,1064.48L1644.39,1066.13L1646.91,1067.77L1649.42,1069.42L1651.93,1071.06L1654.45,1072.70L1656.98,1074.33L1659.51,1075.95L1662.06,1077.54L1664.62,1079.12L1667.19,1080.67L1669.78,1082.20L1672.37,1083.72L1674.96,1085.24L1677.55,1086.76L1680.13,1088.30L1682.70,1089.86L1685.25,1091.45L1687.78,1093.07L1690.29,1094.72L1692.79,1096.39L1695.27,1098.08L1697.74,1099.79L1700.18,1101.54L1702.58,1103.34L1704.93,1105.21L1707.21,1107.16L1709.42,1109.20L1711.55,1111.31L1713.60,1113.50L1715.58,1115.76L1717.50,1118.07L1719.36,1120.43L1721.19,1122.81L1722.98,1125.22L1724.75,1127.65L1726.50,1130.10L1728.23,1132.55L1729.97,1135.00L1731.70,1137.46L1733.43,1139.91L1735.17,1142.37L1736.89,1144.83L1738.61,1147.29L1740.32,1149.77L1742.00,1152.25L1743.66,1154.76L1745.30,1157.28L1746.90,1159.82L1748.46,1162.39L1749.97,1164.98L1751.43,1167.61L1752.81,1170.28L1754.10,1172.98L1755.31,1175.73L1756.45,1178.51L1757.55,1181.31L1758.64,1184.11L1759.73,1186.91L1760.87,1189.68L1762.08,1192.43L1763.38,1195.14L1764.78,1197.79L1766.27,1200.40L1767.83,1202.96L1769.46,1205.49L1771.14,1207.98L1772.86,1210.44L1774.65,1212.85L1776.48,1215.23L1778.37,1217.56L1780.33,1219.84L1782.35,1222.06L1784.45,1224.21L1786.62,1226.28L1788.86,1228.28L1791.18,1230.18L1793.57,1232.00L1796.02,1233.73L1798.53,1235.38L1801.09,1236.95L1803.69,1238.44L1806.34,1239.85L1809.03,1241.18L1811.76,1242.44L1814.53,1243.61L1817.32,1244.71L1820.14,1245.76L1822.97,1246.74L1825.83,1247.68L1828.70,1248.56L1831.58,1249.40L1834.48,1250.18L1837.40,1250.91L1840.32,1251.59L1843.26,1252.23L1846.20,1252.83L1849.15,1253.41L1852.11,1253.96L1855.06,1254.50L1858.02,1255.02L1860.98,1255.54L1863.94,1256.05L1866.90,1256.56L1869.87,1257.06L1872.83,1257.57L1875.79,1258.06L1878.76,1258.54L1881.73,1259.01L1884.70,1259.45L1887.68,1259.87L1890.65,1260.27L1893.63,1260.64L1896.62,1261.00L1899.60,1261.34L1902.59,1261.66L1905.58,1261.96L1908.57,1262.24L1911.57,1262.51L1914.56,1262.77L1917.55,1263.02L1920.55,1263.26L1923.55,1263.49L1926.54,1263.72L1929.54,1263.94L1932.54,1264.15L1935.53,1264.36L1938.53,1264.57L1941.53,1264.78L1944.53,1264.99L1947.52,1265.19L1950.52,1265.40L1953.52,1265.60L1956.52,1265.81L1959.52,1266.01L1962.51,1266.22L1965.51,1266.43L1968.51,1266.65L1971.50,1266.87L1974.50,1267.09L1976.00,1267.20" fill="none" stroke="#D55E00" stroke-width="3.00" stroke-linejoin="round" stroke-linecap="butt"/>
<path d="M1185.30,816.40L1187.97,817.77L1190.64,819.15L1193.32,820.52L1196.02,821.83L1198.75,823.06L1201.54,824.17L1204.37,825.15L1207.25,826.00L1210.16,826.73L1213.09,827.38L1216.04,827.93L1219.01,828.42L1221.98,828.84L1224.96,829.21L1227.95,829.52L1230.94,829.78L1233.94,829.99L1236.94,830.15L1239.94,830.28L1242.94,830.39L1245.95,830.47L1248.95,830.53L1251.95,830.58L1254.96,830.62L1257.96,830.65L1260.97,830.69L1263.97,830.72L1266.98,830.75L1269.98,830.79L1272.99,830.82L1275.99,830.85L1279.00,830.86L1282.00,830.86L1285.00,830.85L1288.01,830.84L1291.01,830.82L1294.02,830.79L1297.02,830.77L1300.03,830.75L1303.03,830.74L1306.04,830.74L1309.04,830.74L1312.05,830.76L1315.05,830.79L1318.06,830.82L1321.06,830.84L1324.07,830.84L1327.07,830.84L1330.07,830.84L1333.08,830.84L1336.08,830.86L1339.09,830.89L1342.09,830.94L1345.10,831.03L1348.10,831.15L1351.10,831.33L1354.09,831.56L1357.08,831.85L1360.06,832.21L1363.03,832.65L1365.99,833.16L1368.94,833.74L1371.87,834.38L1374.80,835.07L1377.71,835.80L1380.61,836.57L1383.51,837.38L1386.40,838.21L1389.28,839.07L1392.15,839.94L1395.02,840.83L1397.89,841.73L1400.76,842.63L1403.62,843.53L1406.48,844.45L1409.31,845.45L1412.09,846.57L1414.79,847.85L1417.41,849.30L1419.93,850.91L1422.37,852.66L1424.73,854.52L1427.03,856.45L1429.28,858.43L1431.50,860.45L1433.68,862.52L1435.82,864.63L1437.92,866.78L1439.97,868.97L1442.00,871.19L1444.02,873.41L1446.04,875.64L1448.07,877.85L1450.11,880.06L1452.15,882.27L1454.19,884.47L1456.23,886.67L1458.28,888.87L1460.35,891.06L1462.43,893.22L1464.53,895.37L1466.67,897.48L1468.83,899.56L1471.03,901.61L1473.24,903.64L1475.46,905.67L1477.67,907.71L1479.85,909.77L1482.02,911.86L1484.16,913.96L1486.29,916.08L1488.40,918.22L1490.49,920.38L1492.54,922.57L1494.55,924.80L1496.51,927.08L1498.39,929.42L1500.19,931.82L1501.91,934.28L1503.57,936.78L1505.18,939.32L1506.77,941.87L1508.36,944.42L1509.98,946.95L1511.64,949.45L1513.35,951.92L1515.11,954.36L1516.89,956.77L1518.70,959.17L1520.54,961.55L1522.40,963.91L1524.27,966.26L1526.18,968.58L1528.11,970.88L1530.06,973.16L1532.05,975.42L1534.05,977.66L1536.06,979.90L1538.07,982.13L1540.07,984.37L1542.06,986.62L1544.06,988.86L1546.10,991.07L1548.20,993.21L1550.38,995.26L1552.66,997.21L1555.04,999.04L1557.50,1000.74L1560.07,1002.27L1562.74,1003.56L1565.53,1004.60L1568.36,1005.51L1571.16,1006.50L1573.85,1007.75L1576.43,1009.25L1578.92,1010.91L1581.39,1012.62L1583.86,1014.33L1586.35,1016.02L1588.84,1017.69L1591.34,1019.36L1593.84,1021.03L1596.34,1022.70L1598.83,1024.37L1601.33,1026.05L1603.83,1027.72L1606.34,1029.37L1608.86,1030.99L1611.41,1032.59L1613.97,1034.16L1616.55,1035.70L1619.14,1037.22L1621.75,1038.72L1624.37,1040.19L1627.00,1041.63L1629.66,1043.02L1632.36,1044.35L1635.08,1045.61L1637.84,1046.80L1640.62,1047.94L1643.40,1049.08L1646.16,1050.25L1648.89,1051.50L1651.57,1052.86L1654.19,1054.31L1656.79,1055.81L1659.40,1057.30L1662.04,1058.74L1664.72,1060.08L1667.44,1061.35L1670.19,1062.57L1672.93,1063.78L1675.67,1065.03L1678.37,1066.34L1681.03,1067.73L1683.64,1069.21L1686.21,1070.76L1688.74,1072.38L1691.23,1074.06L1693.68,1075.79L1696.08,1077.59L1698.43,1079.47L1700.70,1081.43L1702.89,1083.48L1704.97,1085.64L1706.95,1087.89L1708.84,1090.22L1710.65,1092.62L1712.40,1095.05L1714.14,1097.51L1715.87,1099.96L1717.60,1102.42L1719.34,1104.87L1721.07,1107.33L1722.78,1109.79L1724.48,1112.27L1726.16,1114.77L1727.81,1117.28L1729.43,1119.80L1731.02,1122.35L1732.58,1124.92L1734.09,1127.52L1735.57,1130.13L1737.01,1132.77L1738.42,1135.42L1739.81,1138.08L1741.19,1140.75L1742.57,1143.42L1743.95,1146.09L1745.34,1148.76L1746.75,1151.41L1748.18,1154.05L1749.62,1156.69L1751.07,1159.32L1752.50,1161.96L1753.90,1164.62L1755.25,1167.31L1756.53,1170.02L1757.76,1172.76L1758.94,1175.52L1760.07,1178.31L1761.19,1181.09L1762.32,1183.88L1763.46,1186.66L1764.63,1189.42L1765.86,1192.17L1767.15,1194.87L1768.52,1197.55L1769.96,1200.18L1771.45,1202.79L1772.99,1205.37L1774.59,1207.91L1776.25,1210.42L1777.99,1212.86L1779.83,1215.23L1781.79,1217.50L1783.87,1219.65L1786.08,1221.66L1788.42,1223.53L1790.87,1225.25L1793.42,1226.84L1796.03,1228.31L1798.70,1229.68L1801.41,1230.97L1804.16,1232.19L1806.93,1233.33L1809.75,1234.38L1812.59,1235.35L1815.45,1236.24L1818.34,1237.07L1821.24,1237.85L1824.15,1238.59L1827.07,1239.29L1830.00,1239.97L1832.94,1240.60L1835.88,1241.20L1838.83,1241.76L1841.79,1242.28L1844.76,1242.78L1847.72,1243.25L1850.69,1243.71L1853.66,1244.16L1856.64,1244.61L1859.61,1245.05L1862.58,1245.51L1865.55,1245.97L1868.51,1246.46L1871.47,1246.96L1874.43,1247.48L1877.39,1248.02L1880.34,1248.56L1883.30,1249.10L1886.26,1249.62L1889.22,1250.12L1892.19,1250.59L1895.16,1251.03L1898.14,1251.43L1901.12,1251.81L1904.10,1252.15L1907.09,1252.47L1910.08,1252.77L1913.07,1253.05L1916.07,1253.32L1919.06,1253.57L1922.05,1253.82L1925.05,1254.05L1928.05,1254.28L1931.04,1254.51L1934.04,1254.72L1937.04,1254.94L1940.03,1255.15L1943.03,1255.35L1946.03,1255.56L1949.03,1255.77L1952.02,1255.97L1955.02,1256.18L1958.02,1256.39L1961.02,1256.60L1964.01,1256.81L1967.01,1257.03L1970.01,1257.25L1973.00,1257.47L1976.00,1257.70" fill="none" stroke="#56B4E9" stroke-width="3.00" stroke-linejoin="round" stroke-linecap="butt"/>
<path d="M1185.30,813.40L1188.15,814.38L1190.99,815.35L1193.84,816.31L1196.71,817.19L1199.62,817.93L1202.56,818.49L1205.54,818.84L1208.53,819.01L1211.54,819.04L1214.54,818.99L1217.55,818.89L1220.56,818.80L1223.57,818.75L1226.58,818.73L1229.58,818.74L1232.59,818.77L1235.60,818.80L1238.61,818.83L1241.62,818.87L1244.63,818.91L1247.64,818.95L1250.65,819.00L1253.65,819.05L1256.66,819.10L1259.67,819.16L1262.68,819.22L1265.69,819.29L1268.70,819.36L1271.70,819.44L1274.71,819.52L1277.72,819.62L1280.73,819.72L1283.73,819.83L1286.74,819.94L1289.75,820.06L1292.75,820.18L1295.76,820.30L1298.77,820.42L1301.77,820.53L1304.78,820.64L1307.79,820.75L1310.79,820.85L1313.80,820.93L1316.81,821.00L1319.82,821.04L1322.83,821.06L1325.84,821.05L1328.85,821.03L1331.85,821.00L1334.86,820.97L1337.87,820.95L1340.88,820.93L1343.89,820.94L1346.90,820.97L1349.91,821.04L1352.91,821.15L1355.92,821.32L1358.92,821.54L1361.91,821.82L1364.90,822.15L1367.89,822.53L1370.87,822.94L1373.84,823.38L1376.81,823.87L1379.77,824.39L1382.73,824.95L1385.68,825.55L1388.61,826.21L1391.54,826.91L1394.44,827.68L1397.33,828.53L1400.18,829.47L1403.00,830.52L1405.76,831.69L1408.47,832.99L1411.12,834.40L1413.72,835.91L1416.27,837.51L1418.77,839.18L1421.21,840.93L1423.60,842.75L1425.94,844.64L1428.24,846.58L1430.50,848.57L1432.71,850.61L1434.87,852.70L1436.99,854.83L1439.06,857.02L1441.09,859.23L1443.11,861.47L1445.12,863.70L1447.14,865.93L1449.18,868.15L1451.23,870.35L1453.30,872.54L1455.36,874.72L1457.43,876.91L1459.50,879.09L1461.56,881.29L1463.62,883.48L1465.66,885.69L1467.70,887.91L1469.71,890.14L1471.72,892.38L1473.72,894.63L1475.72,896.88L1477.72,899.12L1479.74,901.36L1481.77,903.57L1483.83,905.77L1485.92,907.93L1488.05,910.05L1490.23,912.13L1492.45,914.16L1494.71,916.15L1496.98,918.11L1499.27,920.07L1501.54,922.05L1503.78,924.05L1505.98,926.10L1508.12,928.21L1510.19,930.39L1512.20,932.63L1514.14,934.93L1516.03,937.27L1517.88,939.64L1519.71,942.02L1521.53,944.42L1523.35,946.82L1525.19,949.20L1527.04,951.58L1528.90,953.94L1530.77,956.30L1532.63,958.66L1534.50,961.02L1536.35,963.39L1538.19,965.77L1540.02,968.16L1541.83,970.56L1543.63,972.97L1545.43,975.39L1547.23,977.80L1549.04,980.20L1550.86,982.60L1552.70,984.98L1554.55,987.35L1556.43,989.70L1558.34,992.03L1560.28,994.32L1562.28,996.57L1564.31,998.78L1566.40,1000.95L1568.56,1003.03L1570.81,1005.02L1573.16,1006.89L1575.60,1008.65L1578.10,1010.32L1580.63,1011.94L1583.16,1013.56L1585.68,1015.21L1588.19,1016.86L1590.70,1018.53L1593.20,1020.20L1595.70,1021.87L1598.20,1023.55L1600.70,1025.23L1603.20,1026.90L1605.71,1028.56L1608.24,1030.19L1610.78,1031.80L1613.34,1033.38L1615.92,1034.93L1618.51,1036.46L1621.12,1037.96L1623.74,1039.44L1626.37,1040.89L1629.03,1042.30L1631.72,1043.65L1634.44,1044.92L1637.20,1046.13L1639.98,1047.28L1642.76,1048.42L1645.54,1049.58L1648.28,1050.81L1650.97,1052.14L1653.61,1053.58L1656.22,1055.07L1658.82,1056.58L1661.45,1058.03L1664.13,1059.40L1666.85,1060.68L1669.59,1061.91L1672.35,1063.12L1675.09,1064.36L1677.80,1065.66L1680.48,1067.03L1683.10,1068.50L1685.68,1070.04L1688.22,1071.65L1690.73,1073.31L1693.19,1075.04L1695.61,1076.83L1697.96,1078.69L1700.26,1080.63L1702.47,1082.67L1704.58,1084.80L1706.60,1087.02L1708.53,1089.33L1710.37,1091.71L1712.14,1094.14L1713.86,1096.60L1715.56,1099.09L1717.22,1101.59L1718.86,1104.12L1720.46,1106.66L1722.02,1109.23L1723.56,1111.82L1725.06,1114.43L1726.54,1117.05L1728.01,1119.68L1729.46,1122.31L1730.89,1124.96L1732.30,1127.61L1733.70,1130.28L1735.07,1132.96L1736.43,1135.64L1737.78,1138.33L1739.11,1141.03L1740.44,1143.73L1741.75,1146.44L1743.06,1149.14L1744.37,1151.85L1745.68,1154.57L1746.97,1157.28L1748.25,1160.01L1749.50,1162.74L1750.70,1165.50L1751.85,1168.28L1752.95,1171.08L1753.99,1173.90L1754.99,1176.74L1755.97,1179.59L1756.93,1182.44L1757.89,1185.29L1758.86,1188.14L1759.85,1190.98L1760.86,1193.81L1761.88,1196.64L1762.90,1199.47L1763.93,1202.30L1764.96,1205.13L1766.01,1207.95L1767.11,1210.75L1768.26,1213.52L1769.49,1216.27L1770.81,1218.97L1772.21,1221.63L1773.70,1224.24L1775.26,1226.81L1776.91,1229.32L1778.65,1231.77L1780.51,1234.13L1782.48,1236.39L1784.57,1238.55L1786.77,1240.58L1789.09,1242.49L1791.50,1244.28L1793.98,1245.97L1796.53,1247.56L1799.14,1249.06L1801.78,1250.49L1804.47,1251.83L1807.20,1253.09L1809.97,1254.27L1812.77,1255.35L1815.60,1256.37L1818.46,1257.31L1821.33,1258.21L1824.22,1259.06L1827.11,1259.88L1830.01,1260.67L1832.93,1261.42L1835.85,1262.13L1838.78,1262.80L1841.73,1263.43L1844.67,1264.04L1847.62,1264.62L1850.58,1265.18L1853.54,1265.73L1856.50,1266.27L1859.46,1266.80L1862.42,1267.33L1865.38,1267.87L1868.34,1268.41L1871.30,1268.95L1874.26,1269.51L1877.22,1270.06L1880.18,1270.61L1883.14,1271.14L1886.10,1271.66L1889.07,1272.14L1892.04,1272.60L1895.02,1273.03L1898.01,1273.43L1900.99,1273.79L1903.98,1274.13L1906.97,1274.44L1909.97,1274.73L1912.97,1275.01L1915.96,1275.26L1918.96,1275.51L1921.96,1275.74L1924.96,1275.97L1927.96,1276.18L1930.97,1276.39L1933.97,1276.60L1936.97,1276.80L1939.97,1277.00L1942.97,1277.19L1945.98,1277.39L1948.98,1277.58L1951.98,1277.77L1954.99,1277.97L1957.99,1278.16L1960.99,1278.36L1963.99,1278.56L1967.00,1278.76L1970.00,1278.97L1973.00,1279.18L1976.00,1279.40" fill="none" stroke="#0072B2" stroke-width="3.00" stroke-linejoin="round" stroke-linecap="butt"/>
<path d="M1185.30,801.30L1187.89,802.82L1190.48,804.34L1193.07,805.87L1195.66,807.40L1198.25,808.92L1200.85,810.43L1203.46,811.93L1206.07,813.41L1208.70,814.87L1211.33,816.32L1213.96,817.77L1216.59,819.23L1219.22,820.68L1221.86,822.12L1224.51,823.55L1227.18,824.93L1229.86,826.27L1232.58,827.55L1235.33,828.75L1238.12,829.87L1240.95,830.88L1243.81,831.80L1246.70,832.62L1249.61,833.35L1252.54,834.00L1255.49,834.57L1258.45,835.09L1261.42,835.55L1264.39,835.98L1267.37,836.38L1270.36,836.74L1273.34,837.08L1276.33,837.38L1279.33,837.64L1282.32,837.86L1285.32,838.05L1288.32,838.22L1291.33,838.36L1294.33,838.49L1297.33,838.60L1300.34,838.69L1303.34,838.78L1306.35,838.86L1309.35,838.94L1312.35,839.01L1315.36,839.08L1318.36,839.14L1321.37,839.19L1324.38,839.22L1327.38,839.23L1330.39,839.24L1333.39,839.23L1336.40,839.21L1339.40,839.19L1342.41,839.17L1345.41,839.15L1348.42,839.12L1351.43,839.11L1354.43,839.10L1357.44,839.09L1360.44,839.10L1363.45,839.12L1366.45,839.14L1369.46,839.16L1372.47,839.18L1375.47,839.20L1378.48,839.23L1381.48,839.26L1384.49,839.30L1387.49,839.35L1390.50,839.42L1393.50,839.49L1396.51,839.59L1399.51,839.69L1402.51,839.81L1405.52,839.95L1408.52,840.09L1411.52,840.24L1414.52,840.41L1417.52,840.60L1420.52,840.81L1423.52,841.03L1426.51,841.29L1429.50,841.57L1432.49,841.87L1435.48,842.18L1438.47,842.50L1441.46,842.82L1444.45,843.17L1447.42,843.56L1450.39,844.03L1453.34,844.59L1456.25,845.29L1459.13,846.13L1461.94,847.16L1464.68,848.36L1467.35,849.72L1469.97,851.20L1472.55,852.74L1475.12,854.29L1477.71,855.81L1480.34,857.27L1483.01,858.64L1485.72,859.92L1488.47,861.14L1491.23,862.32L1494.01,863.47L1496.79,864.62L1499.56,865.79L1502.31,866.98L1505.05,868.23L1507.75,869.54L1510.41,870.93L1513.04,872.38L1515.63,873.90L1518.20,875.47L1520.73,877.08L1523.25,878.73L1525.74,880.40L1528.23,882.09L1530.71,883.79L1533.17,885.51L1535.63,887.24L1538.07,888.99L1540.49,890.78L1542.86,892.62L1545.18,894.53L1547.43,896.51L1549.61,898.58L1551.72,900.72L1553.75,902.92L1555.74,905.18L1557.69,907.47L1559.62,909.77L1561.53,912.09L1563.41,914.43L1565.27,916.80L1567.08,919.19L1568.86,921.62L1570.59,924.07L1572.29,926.55L1573.97,929.04L1575.62,931.56L1577.26,934.08L1578.88,936.60L1580.50,939.14L1582.10,941.68L1583.69,944.23L1585.27,946.79L1586.83,949.35L1588.38,951.93L1589.91,954.52L1591.44,957.11L1592.96,959.70L1594.49,962.28L1596.04,964.86L1597.58,967.44L1599.06,970.05L1600.45,972.71L1601.74,975.42L1602.94,978.17L1604.10,980.95L1605.25,983.72L1606.41,986.49L1607.59,989.26L1608.77,992.02L1609.97,994.78L1611.16,997.54L1612.34,1000.30L1613.52,1003.07L1614.69,1005.84L1615.85,1008.61L1617.03,1011.37L1618.24,1014.13L1619.48,1016.86L1620.77,1019.57L1622.11,1022.27L1623.46,1024.95L1624.80,1027.64L1626.13,1030.34L1627.42,1033.05L1628.68,1035.78L1629.92,1038.52L1631.13,1041.27L1632.33,1044.02L1633.51,1046.79L1634.69,1049.55L1635.87,1052.32L1637.04,1055.08L1638.22,1057.85L1639.41,1060.61L1640.62,1063.36L1641.86,1066.10L1643.13,1068.82L1644.45,1071.52L1645.87,1074.16L1647.42,1076.72L1649.10,1079.20L1650.85,1081.64L1652.60,1084.08L1654.30,1086.56L1655.92,1089.09L1657.47,1091.66L1658.98,1094.25L1660.51,1096.85L1662.07,1099.41L1663.69,1101.94L1665.39,1104.41L1667.16,1106.84L1669.00,1109.22L1670.85,1111.58L1672.66,1113.97L1674.45,1116.39L1676.23,1118.81L1678.04,1121.21L1679.88,1123.58L1681.76,1125.93L1683.67,1128.25L1685.60,1130.55L1687.55,1132.84L1689.52,1135.11L1691.50,1137.37L1693.51,1139.61L1695.54,1141.82L1697.60,1144.01L1699.71,1146.14L1701.87,1148.24L1704.08,1150.27L1706.33,1152.27L1708.62,1154.21L1710.93,1156.13L1713.27,1158.02L1715.62,1159.90L1717.97,1161.76L1720.34,1163.61L1722.72,1165.45L1725.11,1167.27L1727.52,1169.07L1729.94,1170.84L1732.39,1172.59L1734.85,1174.31L1737.34,1176.00L1739.84,1177.66L1742.36,1179.30L1744.89,1180.93L1747.42,1182.55L1749.94,1184.19L1752.45,1185.83L1754.96,1187.49L1757.47,1189.15L1759.98,1190.80L1762.51,1192.43L1765.05,1194.02L1767.63,1195.57L1770.24,1197.06L1772.86,1198.52L1775.49,1199.98L1778.08,1201.49L1780.62,1203.09L1783.10,1204.79L1785.55,1206.51L1788.05,1208.17L1790.63,1209.68L1793.30,1211.03L1796.05,1212.24L1798.84,1213.35L1801.66,1214.39L1804.49,1215.38L1807.34,1216.33L1810.21,1217.25L1813.07,1218.15L1815.95,1219.02L1818.83,1219.88L1821.72,1220.72L1824.60,1221.56L1827.49,1222.38L1830.39,1223.20L1833.28,1224.00L1836.18,1224.78L1839.09,1225.55L1842.00,1226.30L1844.92,1227.03L1847.84,1227.74L1850.76,1228.43L1853.69,1229.09L1856.63,1229.74L1859.57,1230.36L1862.51,1230.96L1865.46,1231.54L1868.42,1232.08L1871.38,1232.59L1874.35,1233.07L1877.32,1233.50L1880.30,1233.90L1883.28,1234.27L1886.27,1234.62L1889.26,1234.95L1892.25,1235.27L1895.23,1235.59L1898.22,1235.91L1901.21,1236.23L1904.20,1236.55L1907.19,1236.87L1910.18,1237.18L1913.17,1237.48L1916.16,1237.79L1919.15,1238.08L1922.14,1238.38L1925.13,1238.67L1928.12,1238.96L1931.12,1239.24L1934.11,1239.53L1937.10,1239.81L1940.09,1240.10L1943.09,1240.38L1946.08,1240.66L1949.07,1240.94L1952.06,1241.22L1955.06,1241.50L1958.05,1241.79L1961.04,1242.07L1964.03,1242.35L1967.02,1242.64L1970.02,1242.92L1973.01,1243.21L1976.00,1243.50" fill="none" stroke="#009E73" stroke-width="3.00" stroke-linejoin="round" stroke-linecap="butt"/>
</g></svg>
</body></html>
